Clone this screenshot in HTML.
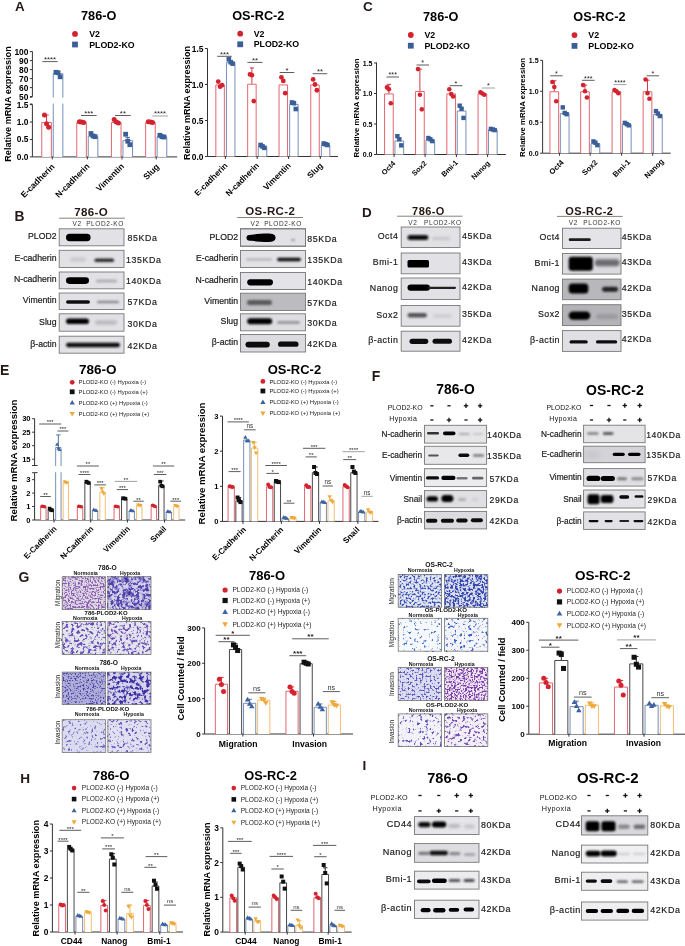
<!DOCTYPE html>
<html><head><meta charset="utf-8"><title>PLOD2 figure</title>
<style>html,body{margin:0;padding:0;background:#fff;overflow:hidden}svg{display:block;will-change:transform}text{font-family:"Liberation Sans",sans-serif}</style>
</head><body>
<svg width="685" height="946" viewBox="0 0 685 946" font-family='"Liberation Sans", sans-serif'>
<defs><filter id="b0_60" filterUnits="userSpaceOnUse" x="0" y="0" width="685" height="946"><feGaussianBlur stdDeviation="0.6"/></filter><filter id="b1_50" filterUnits="userSpaceOnUse" x="0" y="0" width="685" height="946"><feGaussianBlur stdDeviation="1.5"/></filter><filter id="b1_10" filterUnits="userSpaceOnUse" x="0" y="0" width="685" height="946"><feGaussianBlur stdDeviation="1.1"/></filter><filter id="b1_20" filterUnits="userSpaceOnUse" x="0" y="0" width="685" height="946"><feGaussianBlur stdDeviation="1.2"/></filter><filter id="b0_80" filterUnits="userSpaceOnUse" x="0" y="0" width="685" height="946"><feGaussianBlur stdDeviation="0.8"/></filter><filter id="b0_90" filterUnits="userSpaceOnUse" x="0" y="0" width="685" height="946"><feGaussianBlur stdDeviation="0.9"/></filter><filter id="b1_40" filterUnits="userSpaceOnUse" x="0" y="0" width="685" height="946"><feGaussianBlur stdDeviation="1.4"/></filter><filter id="b1_00" filterUnits="userSpaceOnUse" x="0" y="0" width="685" height="946"><feGaussianBlur stdDeviation="1"/></filter><filter id="b0_70" filterUnits="userSpaceOnUse" x="0" y="0" width="685" height="946"><feGaussianBlur stdDeviation="0.7"/></filter><filter id="b0_50" filterUnits="userSpaceOnUse" x="0" y="0" width="685" height="946"><feGaussianBlur stdDeviation="0.5"/></filter><filter id="b1_60" filterUnits="userSpaceOnUse" x="0" y="0" width="685" height="946"><feGaussianBlur stdDeviation="1.6"/></filter><filter id="b1_80" filterUnits="userSpaceOnUse" x="0" y="0" width="685" height="946"><feGaussianBlur stdDeviation="1.8"/></filter><filter id="b2_50" filterUnits="userSpaceOnUse" x="0" y="0" width="685" height="946"><feGaussianBlur stdDeviation="2.5"/></filter><filter id="m1" x="0" y="0" width="1" height="1" color-interpolation-filters="sRGB"><feTurbulence type="fractalNoise" baseFrequency="0.6" numOctaves="3" seed="3"/><feColorMatrix type="matrix" values="0 0 0 0 0.549 0 0 0 0 0.345 0 0 0 0 0.690 6 0 0 0 -2.76"/><feGaussianBlur stdDeviation="0.5"/></filter><filter id="m2" x="0" y="0" width="1" height="1" color-interpolation-filters="sRGB"><feTurbulence type="fractalNoise" baseFrequency="0.35" numOctaves="3" seed="4"/><feColorMatrix type="matrix" values="0 0 0 0 0.329 0 0 0 0 0.267 0 0 0 0 0.690 6 0 0 0 -2.7"/><feGaussianBlur stdDeviation="0.5"/></filter><filter id="m3" x="0" y="0" width="1" height="1" color-interpolation-filters="sRGB"><feTurbulence type="fractalNoise" baseFrequency="0.12" numOctaves="2" seed="54"/><feColorMatrix type="matrix" values="0 0 0 0 0.251 0 0 0 0 0.188 0 0 0 0 0.620 3 0 0 0 -1.56"/></filter><filter id="m4" x="0" y="0" width="1" height="1" color-interpolation-filters="sRGB"><feTurbulence type="fractalNoise" baseFrequency="0.35" numOctaves="3" seed="5"/><feColorMatrix type="matrix" values="0 0 0 0 0.416 0 0 0 0 0.298 0 0 0 0 0.722 6 0 0 0 -3"/><feGaussianBlur stdDeviation="0.35"/></filter><filter id="m5" x="0" y="0" width="1" height="1" color-interpolation-filters="sRGB"><feTurbulence type="fractalNoise" baseFrequency="0.35" numOctaves="3" seed="6"/><feColorMatrix type="matrix" values="0 0 0 0 0.424 0 0 0 0 0.298 0 0 0 0 0.714 6 0 0 0 -3"/><feGaussianBlur stdDeviation="0.35"/></filter><filter id="m6" x="0" y="0" width="1" height="1" color-interpolation-filters="sRGB"><feTurbulence type="fractalNoise" baseFrequency="0.6" numOctaves="3" seed="7"/><feColorMatrix type="matrix" values="0 0 0 0 0.290 0 0 0 0 0.251 0 0 0 0 0.659 6 0 0 0 -3.12"/><feGaussianBlur stdDeviation="0.35"/></filter><filter id="m7" x="0" y="0" width="1" height="1" color-interpolation-filters="sRGB"><feTurbulence type="fractalNoise" baseFrequency="0.3" numOctaves="3" seed="8"/><feColorMatrix type="matrix" values="0 0 0 0 0.243 0 0 0 0 0.188 0 0 0 0 0.643 6 0 0 0 -2.76"/><feGaussianBlur stdDeviation="0.35"/></filter><filter id="m8" x="0" y="0" width="1" height="1" color-interpolation-filters="sRGB"><feTurbulence type="fractalNoise" baseFrequency="0.35" numOctaves="3" seed="9"/><feColorMatrix type="matrix" values="0 0 0 0 0.416 0 0 0 0 0.361 0 0 0 0 0.753 6 0 0 0 -3.42"/><feGaussianBlur stdDeviation="0.35"/></filter><filter id="m9" x="0" y="0" width="1" height="1" color-interpolation-filters="sRGB"><feTurbulence type="fractalNoise" baseFrequency="0.35" numOctaves="3" seed="10"/><feColorMatrix type="matrix" values="0 0 0 0 0.353 0 0 0 0 0.298 0 0 0 0 0.722 6 0 0 0 -3.36"/><feGaussianBlur stdDeviation="0.35"/></filter><filter id="m10" x="0" y="0" width="1" height="1" color-interpolation-filters="sRGB"><feTurbulence type="fractalNoise" baseFrequency="0.5" numOctaves="3" seed="11"/><feColorMatrix type="matrix" values="0 0 0 0 0.227 0 0 0 0 0.322 0 0 0 0 0.722 6 0 0 0 -2.82"/><feGaussianBlur stdDeviation="0.35"/></filter><filter id="m11" x="0" y="0" width="1" height="1" color-interpolation-filters="sRGB"><feTurbulence type="fractalNoise" baseFrequency="0.45" numOctaves="3" seed="12"/><feColorMatrix type="matrix" values="0 0 0 0 0.196 0 0 0 0 0.282 0 0 0 0 0.690 6 0 0 0 -2.64"/><feGaussianBlur stdDeviation="0.35"/></filter><filter id="m12" x="0" y="0" width="1" height="1" color-interpolation-filters="sRGB"><feTurbulence type="fractalNoise" baseFrequency="0.35" numOctaves="3" seed="13"/><feColorMatrix type="matrix" values="0 0 0 0 0.227 0 0 0 0 0.455 0 0 0 0 0.816 6 0 0 0 -3.6"/><feGaussianBlur stdDeviation="0.35"/></filter><filter id="m13" x="0" y="0" width="1" height="1" color-interpolation-filters="sRGB"><feTurbulence type="fractalNoise" baseFrequency="0.35" numOctaves="3" seed="14"/><feColorMatrix type="matrix" values="0 0 0 0 0.227 0 0 0 0 0.376 0 0 0 0 0.769 6 0 0 0 -3.42"/><feGaussianBlur stdDeviation="0.35"/></filter><filter id="m14" x="0" y="0" width="1" height="1" color-interpolation-filters="sRGB"><feTurbulence type="fractalNoise" baseFrequency="0.5" numOctaves="3" seed="15"/><feColorMatrix type="matrix" values="0 0 0 0 0.345 0 0 0 0 0.329 0 0 0 0 0.753 6 0 0 0 -3"/><feGaussianBlur stdDeviation="0.35"/></filter><filter id="m15" x="0" y="0" width="1" height="1" color-interpolation-filters="sRGB"><feTurbulence type="fractalNoise" baseFrequency="0.55" numOctaves="3" seed="16"/><feColorMatrix type="matrix" values="0 0 0 0 0.478 0 0 0 0 0.227 0 0 0 0 0.659 6 0 0 0 -2.76"/><feGaussianBlur stdDeviation="0.35"/></filter><filter id="m16" x="0" y="0" width="1" height="1" color-interpolation-filters="sRGB"><feTurbulence type="fractalNoise" baseFrequency="0.35" numOctaves="3" seed="17"/><feColorMatrix type="matrix" values="0 0 0 0 0.353 0 0 0 0 0.306 0 0 0 0 0.753 6 0 0 0 -3.42"/><feGaussianBlur stdDeviation="0.35"/></filter><filter id="m17" x="0" y="0" width="1" height="1" color-interpolation-filters="sRGB"><feTurbulence type="fractalNoise" baseFrequency="0.35" numOctaves="3" seed="18"/><feColorMatrix type="matrix" values="0 0 0 0 0.439 0 0 0 0 0.275 0 0 0 0 0.690 6 0 0 0 -3.24"/><feGaussianBlur stdDeviation="0.35"/></filter><filter id="b1_30" filterUnits="userSpaceOnUse" x="0" y="0" width="685" height="946"><feGaussianBlur stdDeviation="1.3"/></filter></defs>
<rect width="685" height="946" fill="#fff"/>
<text x="15" y="10.7" font-size="13.4" font-weight="bold" fill="#231815">A</text>
<text x="98.7" y="20.4" font-size="12.7" font-weight="bold" text-anchor="middle">786-O</text>
<circle cx="75" cy="33.9" r="2.9" fill="#d2232f"/>
<rect x="72.1" y="41.6" width="5.8" height="5.8" fill="#3a5e98"/>
<text x="89.2" y="37.07" font-size="8.8" font-weight="bold">V2</text>
<text x="89.2" y="47.67" font-size="8.8" font-weight="bold">PLOD2-KO</text>
<line x1="32.4" y1="104.6" x2="32.4" y2="156.9" stroke="#333" stroke-width="1"/>
<line x1="29.9" y1="156.9" x2="32.4" y2="156.9" stroke="#333" stroke-width="1"/>
<text x="28.4" y="159.92" font-size="8.4" font-weight="bold" text-anchor="end">0.0</text>
<line x1="29.9" y1="139.47" x2="32.4" y2="139.47" stroke="#333" stroke-width="1"/>
<text x="28.4" y="142.49" font-size="8.4" font-weight="bold" text-anchor="end">0.5</text>
<line x1="29.9" y1="122.03" x2="32.4" y2="122.03" stroke="#333" stroke-width="1"/>
<text x="28.4" y="125.05" font-size="8.4" font-weight="bold" text-anchor="end">1.0</text>
<line x1="29.9" y1="104.6" x2="32.4" y2="104.6" stroke="#333" stroke-width="1"/>
<text x="28.4" y="107.62" font-size="8.4" font-weight="bold" text-anchor="end">1.5</text>
<line x1="32.4" y1="51.4" x2="32.4" y2="96.6" stroke="#333" stroke-width="1"/>
<line x1="29.9" y1="96.6" x2="32.4" y2="96.6" stroke="#333" stroke-width="1"/>
<text x="28.4" y="99.62" font-size="8.4" font-weight="bold" text-anchor="end">50</text>
<line x1="29.9" y1="87.6" x2="32.4" y2="87.6" stroke="#333" stroke-width="1"/>
<text x="28.4" y="90.62" font-size="8.4" font-weight="bold" text-anchor="end">60</text>
<line x1="29.9" y1="78.6" x2="32.4" y2="78.6" stroke="#333" stroke-width="1"/>
<text x="28.4" y="81.62" font-size="8.4" font-weight="bold" text-anchor="end">70</text>
<line x1="29.9" y1="69.6" x2="32.4" y2="69.6" stroke="#333" stroke-width="1"/>
<text x="28.4" y="72.62" font-size="8.4" font-weight="bold" text-anchor="end">80</text>
<line x1="29.9" y1="60.6" x2="32.4" y2="60.6" stroke="#333" stroke-width="1"/>
<text x="28.4" y="63.62" font-size="8.4" font-weight="bold" text-anchor="end">90</text>
<line x1="29.9" y1="51.6" x2="32.4" y2="51.6" stroke="#333" stroke-width="1"/>
<text x="28.4" y="54.62" font-size="8.4" font-weight="bold" text-anchor="end">100</text>
<text transform="translate(10.6 104) rotate(-90)" font-size="9.1" font-weight="bold" text-anchor="middle">Relative mRNA expression</text>
<line x1="32.4" y1="156.9" x2="177.1" y2="156.9" stroke="#333" stroke-width="1"/>
<line x1="52.3" y1="156.9" x2="52.3" y2="159.4" stroke="#333" stroke-width="1"/>
<line x1="87.3" y1="156.9" x2="87.3" y2="159.4" stroke="#333" stroke-width="1"/>
<line x1="122" y1="156.9" x2="122" y2="159.4" stroke="#333" stroke-width="1"/>
<line x1="156.2" y1="156.9" x2="156.2" y2="159.4" stroke="#333" stroke-width="1"/>
<path d="M41.75 156.9V122.48H51.35V156.9" fill="#fff" stroke="#e0555e" stroke-width="0.9"/>
<line x1="46.55" y1="122.03" x2="46.55" y2="115.06" stroke="#d2232f" stroke-width="0.9"/>
<line x1="44.35" y1="115.06" x2="48.75" y2="115.06" stroke="#d2232f" stroke-width="0.9"/>
<circle cx="44.45" cy="115.06" r="2.5" fill="#d2232f"/>
<circle cx="46.55" cy="123.77" r="2.5" fill="#d2232f"/>
<circle cx="48.65" cy="127.26" r="2.5" fill="#d2232f"/>
<path d="M53.25 156.9V73.65H62.85V156.9" fill="#fff" stroke="#6582b2" stroke-width="0.9"/>
<rect x="53.55" y="69.9" width="4.8" height="4.8" fill="#3a5e98"/>
<rect x="55.65" y="70.35" width="4.8" height="4.8" fill="#3a5e98"/>
<rect x="57.75" y="74.4" width="4.8" height="4.8" fill="#3a5e98"/>
<path d="M76.75 156.9V122.48H86.35V156.9" fill="#fff" stroke="#e0555e" stroke-width="0.9"/>
<circle cx="79.45" cy="121.68" r="2.5" fill="#d2232f"/>
<circle cx="81.55" cy="122.03" r="2.5" fill="#d2232f"/>
<circle cx="83.65" cy="122.38" r="2.5" fill="#d2232f"/>
<path d="M88.25 156.9V136.43H97.85V156.9" fill="#fff" stroke="#6582b2" stroke-width="0.9"/>
<rect x="88.55" y="131.14" width="4.8" height="4.8" fill="#3a5e98"/>
<rect x="90.65" y="133.58" width="4.8" height="4.8" fill="#3a5e98"/>
<rect x="92.75" y="134.28" width="4.8" height="4.8" fill="#3a5e98"/>
<path d="M111.45 156.9V122.48H121.05V156.9" fill="#fff" stroke="#e0555e" stroke-width="0.9"/>
<circle cx="114.15" cy="119.59" r="2.5" fill="#d2232f"/>
<circle cx="116.25" cy="122.03" r="2.5" fill="#d2232f"/>
<circle cx="118.35" cy="123.08" r="2.5" fill="#d2232f"/>
<path d="M122.95 156.9V140.61H132.55V156.9" fill="#fff" stroke="#6582b2" stroke-width="0.9"/>
<line x1="127.75" y1="140.16" x2="127.75" y2="137.37" stroke="#3a5e98" stroke-width="0.9"/>
<line x1="125.55" y1="137.37" x2="129.95" y2="137.37" stroke="#3a5e98" stroke-width="0.9"/>
<rect x="123.25" y="131.83" width="4.8" height="4.8" fill="#3a5e98"/>
<rect x="125.35" y="138.81" width="4.8" height="4.8" fill="#3a5e98"/>
<rect x="127.45" y="142.3" width="4.8" height="4.8" fill="#3a5e98"/>
<path d="M145.65 156.9V122.48H155.25V156.9" fill="#fff" stroke="#e0555e" stroke-width="0.9"/>
<circle cx="148.35" cy="121.68" r="2.5" fill="#d2232f"/>
<circle cx="150.45" cy="122.03" r="2.5" fill="#d2232f"/>
<circle cx="152.55" cy="122.38" r="2.5" fill="#d2232f"/>
<path d="M157.15 156.9V136.78H166.75V156.9" fill="#fff" stroke="#6582b2" stroke-width="0.9"/>
<rect x="157.45" y="132.88" width="4.8" height="4.8" fill="#3a5e98"/>
<rect x="159.55" y="134.28" width="4.8" height="4.8" fill="#3a5e98"/>
<rect x="161.65" y="134.62" width="4.8" height="4.8" fill="#3a5e98"/>
<rect x="28.4" y="97.6" width="140" height="6" fill="#fff"/>
<line x1="29.9" y1="97.2" x2="32.4" y2="97.2" stroke="#222" stroke-width="0.9"/>
<line x1="29.9" y1="104" x2="32.4" y2="104" stroke="#222" stroke-width="0.9"/>
<line x1="42.3" y1="61.6" x2="57.7" y2="61.6" stroke="#333" stroke-width="0.8"/>
<text x="50" y="62" font-size="7.8" text-anchor="middle" fill="#222">****</text>
<line x1="81" y1="115.5" x2="96.6" y2="115.5" stroke="#333" stroke-width="0.8"/>
<text x="88.8" y="115.9" font-size="7.8" text-anchor="middle" fill="#222">***</text>
<line x1="115" y1="115.5" x2="130.8" y2="115.5" stroke="#333" stroke-width="0.8"/>
<text x="122.9" y="115.9" font-size="7.8" text-anchor="middle" fill="#222">**</text>
<line x1="152.3" y1="116" x2="167.9" y2="116" stroke="#888" stroke-width="0.8"/>
<text x="160.1" y="116.4" font-size="7.8" text-anchor="middle" fill="#222">****</text>
<text transform="translate(55.2 167.3) rotate(-45)" font-size="8.5" font-weight="bold" text-anchor="end">E-cadherin</text>
<text transform="translate(90.2 166.8) rotate(-45)" font-size="8.5" font-weight="bold" text-anchor="end">N-cadherin</text>
<text transform="translate(124.8 166.8) rotate(-45)" font-size="8.5" font-weight="bold" text-anchor="end">Vimentin</text>
<text transform="translate(159.8 167.3) rotate(-45)" font-size="8.5" font-weight="bold" text-anchor="end">Slug</text>
<text x="258.3" y="20.4" font-size="12.7" font-weight="bold" text-anchor="middle">OS-RC-2</text>
<circle cx="240.2" cy="33.7" r="2.9" fill="#d2232f"/>
<rect x="237.3" y="41.4" width="5.8" height="5.8" fill="#3a5e98"/>
<text x="253.7" y="36.87" font-size="8.8" font-weight="bold">V2</text>
<text x="253.7" y="47.47" font-size="8.8" font-weight="bold">PLOD2-KO</text>
<line x1="207.5" y1="48.5" x2="207.5" y2="156.5" stroke="#333" stroke-width="1"/>
<line x1="205" y1="156.5" x2="207.5" y2="156.5" stroke="#333" stroke-width="1"/>
<text x="203.5" y="159.52" font-size="8.4" font-weight="bold" text-anchor="end">0.0</text>
<line x1="205" y1="120.5" x2="207.5" y2="120.5" stroke="#333" stroke-width="1"/>
<text x="203.5" y="123.52" font-size="8.4" font-weight="bold" text-anchor="end">0.5</text>
<line x1="205" y1="84.5" x2="207.5" y2="84.5" stroke="#333" stroke-width="1"/>
<text x="203.5" y="87.52" font-size="8.4" font-weight="bold" text-anchor="end">1.0</text>
<line x1="205" y1="48.5" x2="207.5" y2="48.5" stroke="#333" stroke-width="1"/>
<text x="203.5" y="51.52" font-size="8.4" font-weight="bold" text-anchor="end">1.5</text>
<text transform="translate(189.5 103) rotate(-90)" font-size="9" font-weight="bold" text-anchor="middle">Relative mRNA expression</text>
<line x1="207.5" y1="156.5" x2="338" y2="156.5" stroke="#333" stroke-width="1"/>
<line x1="225.4" y1="156.5" x2="225.4" y2="159" stroke="#333" stroke-width="1"/>
<line x1="257.2" y1="156.5" x2="257.2" y2="159" stroke="#333" stroke-width="1"/>
<line x1="288.6" y1="156.5" x2="288.6" y2="159" stroke="#333" stroke-width="1"/>
<line x1="320.3" y1="156.5" x2="320.3" y2="159" stroke="#333" stroke-width="1"/>
<path d="M215.85 156.5V84.95H224.35V156.5" fill="#fff" stroke="#e0555e" stroke-width="0.9"/>
<circle cx="218.22" cy="81.62" r="2.4" fill="#d2232f"/>
<circle cx="220.1" cy="86.66" r="2.4" fill="#d2232f"/>
<circle cx="221.98" cy="85.22" r="2.4" fill="#d2232f"/>
<path d="M226.45 156.5V62.63H234.95V156.5" fill="#fff" stroke="#6582b2" stroke-width="0.9"/>
<rect x="226.52" y="57" width="4.6" height="4.6" fill="#3a5e98"/>
<rect x="228.4" y="59.88" width="4.6" height="4.6" fill="#3a5e98"/>
<rect x="230.28" y="61.32" width="4.6" height="4.6" fill="#3a5e98"/>
<path d="M247.65 156.5V84.23H256.15V156.5" fill="#fff" stroke="#e0555e" stroke-width="0.9"/>
<line x1="251.9" y1="83.78" x2="251.9" y2="67.94" stroke="#d2232f" stroke-width="0.9"/>
<line x1="249.7" y1="67.94" x2="254.1" y2="67.94" stroke="#d2232f" stroke-width="0.9"/>
<circle cx="250.02" cy="74.42" r="2.4" fill="#d2232f"/>
<circle cx="251.9" cy="75.14" r="2.4" fill="#d2232f"/>
<circle cx="253.78" cy="101.06" r="2.4" fill="#d2232f"/>
<path d="M258.25 156.5V146.87H266.75V156.5" fill="#fff" stroke="#6582b2" stroke-width="0.9"/>
<rect x="258.32" y="142.68" width="4.6" height="4.6" fill="#3a5e98"/>
<rect x="260.2" y="144.12" width="4.6" height="4.6" fill="#3a5e98"/>
<rect x="262.08" y="145.56" width="4.6" height="4.6" fill="#3a5e98"/>
<path d="M279.05 156.5V84.95H287.55V156.5" fill="#fff" stroke="#e0555e" stroke-width="0.9"/>
<circle cx="281.42" cy="77.3" r="2.4" fill="#d2232f"/>
<circle cx="283.3" cy="80.9" r="2.4" fill="#d2232f"/>
<circle cx="285.18" cy="93.14" r="2.4" fill="#d2232f"/>
<path d="M289.65 156.5V104.39H298.15V156.5" fill="#fff" stroke="#6582b2" stroke-width="0.9"/>
<rect x="289.72" y="100.2" width="4.6" height="4.6" fill="#3a5e98"/>
<rect x="291.6" y="100.92" width="4.6" height="4.6" fill="#3a5e98"/>
<rect x="293.48" y="106.68" width="4.6" height="4.6" fill="#3a5e98"/>
<path d="M310.75 156.5V84.95H319.25V156.5" fill="#fff" stroke="#e0555e" stroke-width="0.9"/>
<circle cx="313.12" cy="79.46" r="2.4" fill="#d2232f"/>
<circle cx="315" cy="84.5" r="2.4" fill="#d2232f"/>
<circle cx="316.88" cy="90.26" r="2.4" fill="#d2232f"/>
<path d="M321.35 156.5V145.43H329.85V156.5" fill="#fff" stroke="#6582b2" stroke-width="0.9"/>
<rect x="321.42" y="141.24" width="4.6" height="4.6" fill="#3a5e98"/>
<rect x="323.3" y="141.96" width="4.6" height="4.6" fill="#3a5e98"/>
<rect x="325.18" y="142.68" width="4.6" height="4.6" fill="#3a5e98"/>
<line x1="217.2" y1="56.3" x2="231.8" y2="56.3" stroke="#333" stroke-width="0.8"/>
<text x="224.5" y="56.7" font-size="7.8" text-anchor="middle" fill="#222">***</text>
<line x1="247.4" y1="62.4" x2="262.5" y2="62.4" stroke="#333" stroke-width="0.8"/>
<text x="254.95" y="62.8" font-size="7.8" text-anchor="middle" fill="#222">**</text>
<line x1="279.7" y1="72.5" x2="294.3" y2="72.5" stroke="#333" stroke-width="0.8"/>
<text x="287" y="72.9" font-size="7.8" text-anchor="middle" fill="#222">*</text>
<line x1="312.7" y1="73.7" x2="327.3" y2="73.7" stroke="#333" stroke-width="0.8"/>
<text x="320" y="74.1" font-size="7.8" text-anchor="middle" fill="#222">**</text>
<text transform="translate(228.2 166.1) rotate(-45)" font-size="8.3" font-weight="bold" text-anchor="end">E-cadherin</text>
<text transform="translate(259.7 166.1) rotate(-45)" font-size="8.3" font-weight="bold" text-anchor="end">N-cadherin</text>
<text transform="translate(291.3 166.1) rotate(-45)" font-size="8.3" font-weight="bold" text-anchor="end">Vimentin</text>
<text transform="translate(323.3 166.1) rotate(-45)" font-size="8.3" font-weight="bold" text-anchor="end">Slug</text>
<text x="14.5" y="221.3" font-size="13.8" font-weight="bold" fill="#231815">B</text>
<text x="91.2" y="216.3" font-size="11.5" font-weight="bold" text-anchor="middle" fill="#231815" letter-spacing="0.4">786-O</text>
<line x1="59.2" y1="218.2" x2="124.8" y2="218.2" stroke="#8a817c" stroke-width="1"/>
<text x="72.5" y="226.4" font-size="6.5" fill="#333" letter-spacing="0.7">V2</text>
<text x="86.2" y="226.4" font-size="6.5" fill="#333" letter-spacing="0.6">PLOD2-KO</text>
<rect x="59.2" y="228.8" width="64.8" height="17" fill="#e2e2e6"/>
<rect x="66" y="233.8" width="24.6" height="7.4" rx="3.7" fill="#000" filter="url(#b0_60)"/>
<rect x="59.2" y="228.8" width="64.8" height="17" fill="none" stroke="#787878" stroke-width="0.9"/>
<text x="56.5" y="239.3" font-size="8.7" text-anchor="end" fill="#1a1a1a" stroke="#1a1a1a" stroke-width="0.2">PLOD2</text>
<text x="127.5" y="241.3" font-size="8.8" fill="#1a1a1a" letter-spacing="0.6" stroke="#1a1a1a" stroke-width="0.18">85KDa</text>
<rect x="59.2" y="250.3" width="64.8" height="17.2" fill="#e2e2e6"/>
<rect x="70" y="257.5" width="16" height="4" rx="2" fill="#c8c8cc" filter="url(#b1_50)"/>
<rect x="94.4" y="258.5" width="19.7" height="3.6" rx="1.8" fill="#2a2a2a" filter="url(#b1_10)"/>
<rect x="59.2" y="250.3" width="64.8" height="17.2" fill="none" stroke="#787878" stroke-width="0.9"/>
<text x="56.5" y="260.9" font-size="8.7" text-anchor="end" fill="#1a1a1a" stroke="#1a1a1a" stroke-width="0.2">E-cadherin</text>
<text x="126" y="262.9" font-size="8.8" fill="#1a1a1a" letter-spacing="0.6" stroke="#1a1a1a" stroke-width="0.18">135KDa</text>
<rect x="59.2" y="272" width="64.8" height="16.8" fill="#e2e2e6"/>
<rect x="66" y="277.3" width="23" height="6.6" rx="3.3" fill="#000" filter="url(#b0_60)"/>
<rect x="96" y="279.5" width="21" height="3" rx="1.5" fill="#b0b0b4" filter="url(#b1_20)"/>
<rect x="59.2" y="272" width="64.8" height="16.8" fill="none" stroke="#787878" stroke-width="0.9"/>
<text x="56.5" y="282.4" font-size="8.7" text-anchor="end" fill="#1a1a1a" stroke="#1a1a1a" stroke-width="0.2">N-cadherin</text>
<text x="126" y="284.4" font-size="8.8" fill="#1a1a1a" letter-spacing="0.6" stroke="#1a1a1a" stroke-width="0.18">140KDa</text>
<rect x="59.2" y="293" width="64.8" height="16.5" fill="#e2e2e6"/>
<rect x="66" y="300.2" width="24" height="3.6" rx="1.8" fill="#111" filter="url(#b0_60)"/>
<rect x="97" y="300.7" width="22" height="2.6" rx="1.3" fill="#8a8a8e" filter="url(#b0_80)"/>
<rect x="59.2" y="293" width="64.8" height="16.5" fill="none" stroke="#787878" stroke-width="0.9"/>
<text x="56.5" y="303.25" font-size="8.7" text-anchor="end" fill="#1a1a1a" stroke="#1a1a1a" stroke-width="0.2">Vimentin</text>
<text x="127.5" y="305.25" font-size="8.8" fill="#1a1a1a" letter-spacing="0.6" stroke="#1a1a1a" stroke-width="0.18">57KDa</text>
<rect x="59.2" y="313.8" width="64.8" height="17.4" fill="#e2e2e6"/>
<rect x="66" y="318.5" width="23" height="5.6" rx="2.8" fill="#000" filter="url(#b0_90)"/>
<rect x="95" y="320.5" width="22" height="4" rx="2" fill="#b5b5b9" filter="url(#b1_40)"/>
<rect x="59.2" y="313.8" width="64.8" height="17.4" fill="none" stroke="#787878" stroke-width="0.9"/>
<text x="56.5" y="324.5" font-size="8.7" text-anchor="end" fill="#1a1a1a" stroke="#1a1a1a" stroke-width="0.2">Slug</text>
<text x="127.5" y="326.5" font-size="8.8" fill="#1a1a1a" letter-spacing="0.6" stroke="#1a1a1a" stroke-width="0.18">30KDa</text>
<rect x="59.2" y="336.2" width="64.8" height="17" fill="#e2e2e6"/>
<rect x="66" y="342.7" width="54" height="4.6" rx="2.3" fill="#111" filter="url(#b0_80)"/>
<rect x="59.2" y="336.2" width="64.8" height="17" fill="none" stroke="#787878" stroke-width="0.9"/>
<text x="56.5" y="346.7" font-size="8.7" text-anchor="end" fill="#1a1a1a" stroke="#1a1a1a" stroke-width="0.2">β-actin</text>
<text x="127.5" y="348.7" font-size="8.8" fill="#1a1a1a" letter-spacing="0.6" stroke="#1a1a1a" stroke-width="0.18">42KDa</text>
<text x="270.3" y="215.2" font-size="11.5" font-weight="bold" text-anchor="middle" fill="#231815" letter-spacing="0.4">OS-RC-2</text>
<line x1="237.2" y1="217.5" x2="303" y2="217.5" stroke="#8a817c" stroke-width="1"/>
<text x="250.5" y="226" font-size="6.5" fill="#333" letter-spacing="0.7">V2</text>
<text x="264.2" y="226" font-size="6.5" fill="#333" letter-spacing="0.6">PLOD2-KO</text>
<rect x="240.5" y="228.8" width="65" height="17.4" fill="#e2e2e6"/>
<rect x="291" y="239" width="4" height="2" rx="1" fill="#999" filter="url(#b0_80)"/>
<rect x="240.5" y="228.8" width="65" height="17.4" fill="none" stroke="#787878" stroke-width="0.9"/>
<path d="M249.3 235 C269.86 232.63 275.5 233.1 275.5 237.8 L275.5 237.8 C275.5 242.5 269.86 242.97 249.3 240.6 Z" fill="#000" filter="url(#b0_60)"/>
<circle cx="249.3" cy="237.8" r="2.8" fill="#000" filter="url(#b0_60)"/>
<rect x="240.5" y="228.8" width="65" height="17.4" fill="none" stroke="#787878" stroke-width="0.9"/>
<text x="238" y="239.5" font-size="8.7" text-anchor="end" fill="#1a1a1a" stroke="#1a1a1a" stroke-width="0.2">PLOD2</text>
<text x="307.3" y="241.5" font-size="8.8" fill="#1a1a1a" letter-spacing="0.6" stroke="#1a1a1a" stroke-width="0.18">85KDa</text>
<rect x="240.5" y="250.5" width="65" height="17" fill="#e2e2e6"/>
<rect x="246" y="258.25" width="26" height="2.5" rx="1.25" fill="#b8b8bc" filter="url(#b1_00)"/>
<rect x="277" y="257.7" width="24" height="3.6" rx="1.8" fill="#111" filter="url(#b0_80)"/>
<rect x="240.5" y="250.5" width="65" height="17" fill="none" stroke="#787878" stroke-width="0.9"/>
<text x="238" y="261" font-size="8.7" text-anchor="end" fill="#1a1a1a" stroke="#1a1a1a" stroke-width="0.2">E-cadherin</text>
<text x="307.3" y="263" font-size="8.8" fill="#1a1a1a" letter-spacing="0.6" stroke="#1a1a1a" stroke-width="0.18">135KDa</text>
<rect x="240.5" y="272.5" width="65" height="17" fill="#e4e4e8"/>
<rect x="247.2" y="279.2" width="25.8" height="6.2" rx="3.1" fill="#000" filter="url(#b0_60)"/>
<rect x="240.5" y="272.5" width="65" height="17" fill="none" stroke="#787878" stroke-width="0.9"/>
<text x="238" y="283" font-size="8.7" text-anchor="end" fill="#1a1a1a" stroke="#1a1a1a" stroke-width="0.2">N-cadherin</text>
<text x="307.3" y="285" font-size="8.8" fill="#1a1a1a" letter-spacing="0.6" stroke="#1a1a1a" stroke-width="0.18">140KDa</text>
<rect x="240.5" y="293.2" width="65" height="17.3" fill="#bcbcc0"/>
<rect x="247" y="300" width="25" height="5" rx="2.5" fill="#5a5a5c" filter="url(#b1_20)"/>
<rect x="240.5" y="293.2" width="65" height="17.3" fill="none" stroke="#787878" stroke-width="0.9"/>
<text x="238" y="303.85" font-size="8.7" text-anchor="end" fill="#1a1a1a" stroke="#1a1a1a" stroke-width="0.2">Vimentin</text>
<text x="307.3" y="305.85" font-size="8.8" fill="#1a1a1a" letter-spacing="0.6" stroke="#1a1a1a" stroke-width="0.18">57KDa</text>
<rect x="240.5" y="313.8" width="65" height="17" fill="#dedee2"/>
<rect x="247.2" y="318.2" width="25" height="6" rx="3" fill="#000" filter="url(#b0_80)"/>
<rect x="277" y="320.9" width="23" height="3.2" rx="1.6" fill="#9a9a9e" filter="url(#b1_20)"/>
<rect x="240.5" y="313.8" width="65" height="17" fill="none" stroke="#787878" stroke-width="0.9"/>
<text x="238" y="324.3" font-size="8.7" text-anchor="end" fill="#1a1a1a" stroke="#1a1a1a" stroke-width="0.2">Slug</text>
<text x="307.3" y="326.3" font-size="8.8" fill="#1a1a1a" letter-spacing="0.6" stroke="#1a1a1a" stroke-width="0.18">30KDa</text>
<rect x="240.5" y="334.5" width="65" height="17.5" fill="#dcdce0"/>
<rect x="245.5" y="341.7" width="24.3" height="5.8" rx="2.9" fill="#0a0a0a" filter="url(#b0_70)"/>
<rect x="278" y="341.6" width="20.5" height="5.2" rx="2.6" fill="#0a0a0a" filter="url(#b0_70)"/>
<rect x="240.5" y="334.5" width="65" height="17.5" fill="none" stroke="#787878" stroke-width="0.9"/>
<text x="238" y="345.25" font-size="8.7" text-anchor="end" fill="#1a1a1a" stroke="#1a1a1a" stroke-width="0.2">β-actin</text>
<text x="307.3" y="347.25" font-size="8.8" fill="#1a1a1a" letter-spacing="0.6" stroke="#1a1a1a" stroke-width="0.18">42KDa</text>
<text x="363" y="11.3" font-size="13.6" font-weight="bold" fill="#231815">C</text>
<text x="440.7" y="20.5" font-size="12.7" font-weight="bold" text-anchor="middle">786-O</text>
<circle cx="410.8" cy="35" r="2.9" fill="#d2232f"/>
<rect x="407.9" y="42.8" width="5.8" height="5.8" fill="#3a5e98"/>
<text x="424.5" y="38.17" font-size="8.8" font-weight="bold">V2</text>
<text x="424.5" y="48.87" font-size="8.8" font-weight="bold">PLOD2-KO</text>
<line x1="376.5" y1="62.5" x2="376.5" y2="154.5" stroke="#333" stroke-width="1"/>
<line x1="374" y1="154.5" x2="376.5" y2="154.5" stroke="#333" stroke-width="1"/>
<text x="372.5" y="157.02" font-size="7" font-weight="bold" text-anchor="end">0.0</text>
<line x1="374" y1="124" x2="376.5" y2="124" stroke="#333" stroke-width="1"/>
<text x="372.5" y="126.52" font-size="7" font-weight="bold" text-anchor="end">0.5</text>
<line x1="374" y1="93.5" x2="376.5" y2="93.5" stroke="#333" stroke-width="1"/>
<text x="372.5" y="96.02" font-size="7" font-weight="bold" text-anchor="end">1.0</text>
<line x1="374" y1="63" x2="376.5" y2="63" stroke="#333" stroke-width="1"/>
<text x="372.5" y="65.52" font-size="7" font-weight="bold" text-anchor="end">1.5</text>
<text transform="translate(359 108) rotate(-90)" font-size="7.8" font-weight="bold" text-anchor="middle">Relative mRNA expression</text>
<line x1="376.5" y1="154.5" x2="505.8" y2="154.5" stroke="#333" stroke-width="1"/>
<line x1="394.1" y1="154.5" x2="394.1" y2="157" stroke="#333" stroke-width="1"/>
<line x1="425.1" y1="154.5" x2="425.1" y2="157" stroke="#333" stroke-width="1"/>
<line x1="456.4" y1="154.5" x2="456.4" y2="157" stroke="#333" stroke-width="1"/>
<line x1="487.6" y1="154.5" x2="487.6" y2="157" stroke="#333" stroke-width="1"/>
<path d="M384.55 154.5V93.95H393.25V154.5" fill="#fff" stroke="#e0555e" stroke-width="0.9"/>
<line x1="388.9" y1="93.5" x2="388.9" y2="84.35" stroke="#d2232f" stroke-width="0.9"/>
<line x1="386.7" y1="84.35" x2="391.1" y2="84.35" stroke="#d2232f" stroke-width="0.9"/>
<circle cx="386.98" cy="87.4" r="2.3" fill="#d2232f"/>
<circle cx="388.9" cy="89.23" r="2.3" fill="#d2232f"/>
<circle cx="390.82" cy="103.26" r="2.3" fill="#d2232f"/>
<path d="M394.95 154.5V140.92H403.65V154.5" fill="#fff" stroke="#6582b2" stroke-width="0.9"/>
<rect x="395.18" y="134" width="4.4" height="4.4" fill="#3a5e98"/>
<rect x="397.1" y="137.05" width="4.4" height="4.4" fill="#3a5e98"/>
<rect x="399.02" y="143.15" width="4.4" height="4.4" fill="#3a5e98"/>
<path d="M415.55 154.5V91.51H424.25V154.5" fill="#fff" stroke="#e0555e" stroke-width="0.9"/>
<line x1="419.9" y1="91.06" x2="419.9" y2="69.1" stroke="#d2232f" stroke-width="0.9"/>
<line x1="417.7" y1="69.1" x2="422.1" y2="69.1" stroke="#d2232f" stroke-width="0.9"/>
<circle cx="417.98" cy="69.1" r="2.3" fill="#d2232f"/>
<circle cx="419.9" cy="94.72" r="2.3" fill="#d2232f"/>
<circle cx="421.82" cy="109.36" r="2.3" fill="#d2232f"/>
<path d="M425.95 154.5V140.31H434.65V154.5" fill="#fff" stroke="#6582b2" stroke-width="0.9"/>
<rect x="426.18" y="135.83" width="4.4" height="4.4" fill="#3a5e98"/>
<rect x="428.1" y="137.05" width="4.4" height="4.4" fill="#3a5e98"/>
<rect x="430.02" y="138.88" width="4.4" height="4.4" fill="#3a5e98"/>
<path d="M446.85 154.5V93.95H455.55V154.5" fill="#fff" stroke="#e0555e" stroke-width="0.9"/>
<circle cx="449.28" cy="89.23" r="2.3" fill="#d2232f"/>
<circle cx="451.2" cy="94.11" r="2.3" fill="#d2232f"/>
<circle cx="453.12" cy="96.55" r="2.3" fill="#d2232f"/>
<path d="M457.25 154.5V111.03H465.95V154.5" fill="#fff" stroke="#6582b2" stroke-width="0.9"/>
<rect x="457.48" y="103.5" width="4.4" height="4.4" fill="#3a5e98"/>
<rect x="459.4" y="106.55" width="4.4" height="4.4" fill="#3a5e98"/>
<rect x="461.32" y="115.7" width="4.4" height="4.4" fill="#3a5e98"/>
<path d="M478.05 154.5V93.95H486.75V154.5" fill="#fff" stroke="#e0555e" stroke-width="0.9"/>
<circle cx="480.48" cy="92.28" r="2.3" fill="#d2232f"/>
<circle cx="482.4" cy="93.5" r="2.3" fill="#d2232f"/>
<circle cx="484.32" cy="94.72" r="2.3" fill="#d2232f"/>
<path d="M488.45 154.5V129.94H497.15V154.5" fill="#fff" stroke="#6582b2" stroke-width="0.9"/>
<rect x="488.68" y="126.68" width="4.4" height="4.4" fill="#3a5e98"/>
<rect x="490.6" y="127.29" width="4.4" height="4.4" fill="#3a5e98"/>
<rect x="492.52" y="127.9" width="4.4" height="4.4" fill="#3a5e98"/>
<line x1="386.5" y1="77" x2="399" y2="77" stroke="#333" stroke-width="0.8"/>
<text x="392.75" y="77.4" font-size="7.2" text-anchor="middle" fill="#222">***</text>
<line x1="416.5" y1="65" x2="429" y2="65" stroke="#333" stroke-width="0.8"/>
<text x="422.75" y="65.4" font-size="7.2" text-anchor="middle" fill="#222">*</text>
<line x1="449.5" y1="85.7" x2="462.5" y2="85.7" stroke="#333" stroke-width="0.8"/>
<text x="456" y="86.1" font-size="7.2" text-anchor="middle" fill="#222">*</text>
<line x1="482" y1="88" x2="495" y2="88" stroke="#888" stroke-width="0.8"/>
<text x="488.5" y="88.4" font-size="7.2" text-anchor="middle" fill="#222">*</text>
<text transform="translate(395.9 163.9) rotate(-45)" font-size="7.3" font-weight="bold" text-anchor="end">Oct4</text>
<text transform="translate(427.2 163.9) rotate(-45)" font-size="7.3" font-weight="bold" text-anchor="end">Sox2</text>
<text transform="translate(458.5 163) rotate(-45)" font-size="7.3" font-weight="bold" text-anchor="end">Bmi-1</text>
<text transform="translate(490.4 163.9) rotate(-45)" font-size="7.3" font-weight="bold" text-anchor="end">Nanog</text>
<text x="599.4" y="20.6" font-size="12.7" font-weight="bold" text-anchor="middle">OS-RC-2</text>
<circle cx="574.5" cy="35.1" r="2.9" fill="#d2232f"/>
<rect x="571.6" y="43" width="5.8" height="5.8" fill="#3a5e98"/>
<text x="588.3" y="38.27" font-size="8.8" font-weight="bold">V2</text>
<text x="588.3" y="49.07" font-size="8.8" font-weight="bold">PLOD2-KO</text>
<line x1="542.6" y1="60.3" x2="542.6" y2="153.2" stroke="#333" stroke-width="1"/>
<line x1="540.1" y1="153.2" x2="542.6" y2="153.2" stroke="#333" stroke-width="1"/>
<text x="538.6" y="155.72" font-size="7" font-weight="bold" text-anchor="end">0.0</text>
<line x1="540.1" y1="122.25" x2="542.6" y2="122.25" stroke="#333" stroke-width="1"/>
<text x="538.6" y="124.77" font-size="7" font-weight="bold" text-anchor="end">0.5</text>
<line x1="540.1" y1="91.3" x2="542.6" y2="91.3" stroke="#333" stroke-width="1"/>
<text x="538.6" y="93.82" font-size="7" font-weight="bold" text-anchor="end">1.0</text>
<line x1="540.1" y1="60.35" x2="542.6" y2="60.35" stroke="#333" stroke-width="1"/>
<text x="538.6" y="62.87" font-size="7" font-weight="bold" text-anchor="end">1.5</text>
<text transform="translate(524.6 107.5) rotate(-90)" font-size="7.8" font-weight="bold" text-anchor="middle">Relative mRNA expression</text>
<line x1="542.6" y1="153.2" x2="670.7" y2="153.2" stroke="#333" stroke-width="1"/>
<line x1="559.5" y1="153.2" x2="559.5" y2="155.7" stroke="#333" stroke-width="1"/>
<line x1="590.2" y1="153.2" x2="590.2" y2="155.7" stroke="#333" stroke-width="1"/>
<line x1="621.6" y1="153.2" x2="621.6" y2="155.7" stroke="#333" stroke-width="1"/>
<line x1="652.7" y1="153.2" x2="652.7" y2="155.7" stroke="#333" stroke-width="1"/>
<path d="M549.95 153.2V91.75H558.65V153.2" fill="#fff" stroke="#e0555e" stroke-width="0.9"/>
<line x1="554.3" y1="91.3" x2="554.3" y2="80.78" stroke="#d2232f" stroke-width="0.9"/>
<line x1="552.1" y1="80.78" x2="556.5" y2="80.78" stroke="#d2232f" stroke-width="0.9"/>
<circle cx="552.38" cy="82.02" r="2.3" fill="#d2232f"/>
<circle cx="554.3" cy="86.97" r="2.3" fill="#d2232f"/>
<circle cx="556.22" cy="101.2" r="2.3" fill="#d2232f"/>
<path d="M560.35 153.2V113.41H569.05V153.2" fill="#fff" stroke="#6582b2" stroke-width="0.9"/>
<rect x="560.58" y="105.19" width="4.4" height="4.4" fill="#3a5e98"/>
<rect x="562.5" y="110.76" width="4.4" height="4.4" fill="#3a5e98"/>
<rect x="564.42" y="112" width="4.4" height="4.4" fill="#3a5e98"/>
<path d="M580.65 153.2V91.75H589.35V153.2" fill="#fff" stroke="#e0555e" stroke-width="0.9"/>
<line x1="585" y1="91.3" x2="585" y2="85.11" stroke="#d2232f" stroke-width="0.9"/>
<line x1="582.8" y1="85.11" x2="587.2" y2="85.11" stroke="#d2232f" stroke-width="0.9"/>
<circle cx="583.08" cy="85.11" r="2.3" fill="#d2232f"/>
<circle cx="585" cy="91.3" r="2.3" fill="#d2232f"/>
<circle cx="586.92" cy="97.49" r="2.3" fill="#d2232f"/>
<path d="M591.05 153.2V143.75H599.75V153.2" fill="#fff" stroke="#6582b2" stroke-width="0.9"/>
<rect x="591.28" y="139.24" width="4.4" height="4.4" fill="#3a5e98"/>
<rect x="593.2" y="140.48" width="4.4" height="4.4" fill="#3a5e98"/>
<rect x="595.12" y="142.95" width="4.4" height="4.4" fill="#3a5e98"/>
<path d="M612.05 153.2V91.75H620.75V153.2" fill="#fff" stroke="#e0555e" stroke-width="0.9"/>
<circle cx="614.48" cy="90.06" r="2.3" fill="#d2232f"/>
<circle cx="616.4" cy="91.3" r="2.3" fill="#d2232f"/>
<circle cx="618.32" cy="93.16" r="2.3" fill="#d2232f"/>
<path d="M622.45 153.2V124.56H631.15V153.2" fill="#fff" stroke="#6582b2" stroke-width="0.9"/>
<rect x="622.68" y="120.67" width="4.4" height="4.4" fill="#3a5e98"/>
<rect x="624.6" y="121.91" width="4.4" height="4.4" fill="#3a5e98"/>
<rect x="626.52" y="123.14" width="4.4" height="4.4" fill="#3a5e98"/>
<path d="M643.15 153.2V91.75H651.85V153.2" fill="#fff" stroke="#e0555e" stroke-width="0.9"/>
<line x1="647.5" y1="91.3" x2="647.5" y2="80.16" stroke="#d2232f" stroke-width="0.9"/>
<line x1="645.3" y1="80.16" x2="649.7" y2="80.16" stroke="#d2232f" stroke-width="0.9"/>
<circle cx="645.58" cy="79.54" r="2.3" fill="#d2232f"/>
<circle cx="647.5" cy="93.16" r="2.3" fill="#d2232f"/>
<circle cx="649.42" cy="98.73" r="2.3" fill="#d2232f"/>
<path d="M653.55 153.2V114.65H662.25V153.2" fill="#fff" stroke="#6582b2" stroke-width="0.9"/>
<rect x="653.78" y="108.91" width="4.4" height="4.4" fill="#3a5e98"/>
<rect x="655.7" y="111.38" width="4.4" height="4.4" fill="#3a5e98"/>
<rect x="657.62" y="113.86" width="4.4" height="4.4" fill="#3a5e98"/>
<line x1="550.2" y1="75.8" x2="562.7" y2="75.8" stroke="#333" stroke-width="0.8"/>
<text x="556.45" y="76.2" font-size="7.2" text-anchor="middle" fill="#222">*</text>
<line x1="582" y1="80.3" x2="594.6" y2="80.3" stroke="#333" stroke-width="0.8"/>
<text x="588.3" y="80.7" font-size="7.2" text-anchor="middle" fill="#222">***</text>
<line x1="613.4" y1="84.6" x2="626.5" y2="84.6" stroke="#888" stroke-width="0.8"/>
<text x="619.95" y="85" font-size="7.2" text-anchor="middle" fill="#222">****</text>
<line x1="646.6" y1="75.8" x2="659.1" y2="75.8" stroke="#333" stroke-width="0.8"/>
<text x="652.85" y="76.2" font-size="7.2" text-anchor="middle" fill="#222">*</text>
<text transform="translate(564.3 163) rotate(-45)" font-size="7.6" font-weight="bold" text-anchor="end">Oct4</text>
<text transform="translate(597.9 163) rotate(-45)" font-size="7.6" font-weight="bold" text-anchor="end">Sox2</text>
<text transform="translate(630.7 162.6) rotate(-45)" font-size="7.6" font-weight="bold" text-anchor="end">Bmi-1</text>
<text transform="translate(664.3 162) rotate(-45)" font-size="7.6" font-weight="bold" text-anchor="end">Nanog</text>
<text x="362" y="217" font-size="13.5" font-weight="bold" fill="#231815">D</text>
<text x="428.4" y="214.6" font-size="11" font-weight="bold" text-anchor="middle" fill="#231815" letter-spacing="0.4">786-O</text>
<line x1="397" y1="216.2" x2="462.5" y2="216.2" stroke="#8a817c" stroke-width="1"/>
<text x="408.2" y="224.6" font-size="6.5" fill="#333" letter-spacing="0.7">V2</text>
<text x="424" y="224.6" font-size="6.5" fill="#333" letter-spacing="0.6">PLOD2-KO</text>
<rect x="401.2" y="227" width="58.8" height="20.5" fill="#e2e2e6"/>
<rect x="407.5" y="235" width="20.8" height="5" rx="2.5" fill="#111" filter="url(#b1_00)"/>
<rect x="432" y="237" width="18" height="3" rx="1.5" fill="#c4c4c8" filter="url(#b1_50)"/>
<rect x="401.2" y="227" width="58.8" height="20.5" fill="none" stroke="#787878" stroke-width="0.9"/>
<text x="398.3" y="239.25" font-size="8.8" text-anchor="end" fill="#1a1a1a" letter-spacing="0.5" stroke="#1a1a1a" stroke-width="0.18">Oct4</text>
<text x="462" y="238.65" font-size="8.8" fill="#1a1a1a" letter-spacing="0.6" stroke="#1a1a1a" stroke-width="0.18">45KDa</text>
<rect x="401.2" y="253" width="58.8" height="20.8" fill="#e2e2e6"/>
<rect x="407.5" y="260.1" width="21.5" height="7.4" rx="1.5" fill="#000" filter="url(#b0_50)"/>
<rect x="401.2" y="253" width="58.8" height="20.8" fill="none" stroke="#787878" stroke-width="0.9"/>
<text x="398.3" y="265.4" font-size="8.8" text-anchor="end" fill="#1a1a1a" letter-spacing="0.5" stroke="#1a1a1a" stroke-width="0.18">Bmi-1</text>
<text x="462" y="264.8" font-size="8.8" fill="#1a1a1a" letter-spacing="0.6" stroke="#1a1a1a" stroke-width="0.18">43KDa</text>
<rect x="401.2" y="278" width="58.8" height="21.5" fill="#e2e2e6"/>
<rect x="407.5" y="284.4" width="22.5" height="6.4" rx="3.2" fill="#000" filter="url(#b0_60)"/>
<rect x="428" y="286.7" width="28" height="2.2" rx="1.1" fill="#222" filter="url(#b0_60)"/>
<rect x="401.2" y="278" width="58.8" height="21.5" fill="none" stroke="#787878" stroke-width="0.9"/>
<text x="398.3" y="290.75" font-size="8.8" text-anchor="end" fill="#1a1a1a" letter-spacing="0.5" stroke="#1a1a1a" stroke-width="0.18">Nanog</text>
<text x="462" y="290.15" font-size="8.8" fill="#1a1a1a" letter-spacing="0.6" stroke="#1a1a1a" stroke-width="0.18">42KDa</text>
<rect x="401.2" y="305.5" width="58.8" height="20.7" fill="#e2e2e6"/>
<rect x="407.5" y="312.9" width="19.5" height="4.6" rx="2.3" fill="#555" filter="url(#b1_20)"/>
<rect x="433" y="314.5" width="19" height="3" rx="1.5" fill="#c8c8cc" filter="url(#b1_50)"/>
<rect x="401.2" y="305.5" width="58.8" height="20.7" fill="none" stroke="#787878" stroke-width="0.9"/>
<text x="398.3" y="317.85" font-size="8.8" text-anchor="end" fill="#1a1a1a" letter-spacing="0.5" stroke="#1a1a1a" stroke-width="0.18">Sox2</text>
<text x="462" y="317.25" font-size="8.8" fill="#1a1a1a" letter-spacing="0.6" stroke="#1a1a1a" stroke-width="0.18">35KDa</text>
<rect x="401.2" y="331.2" width="58.8" height="20" fill="#e2e2e6"/>
<rect x="409.5" y="338.7" width="18.8" height="5.2" rx="2.6" fill="#0a0a0a" filter="url(#b0_60)"/>
<rect x="432.5" y="338.8" width="19.5" height="5" rx="2.5" fill="#0a0a0a" filter="url(#b0_60)"/>
<rect x="401.2" y="331.2" width="58.8" height="20" fill="none" stroke="#787878" stroke-width="0.9"/>
<text x="398.3" y="343.2" font-size="8.8" text-anchor="end" fill="#1a1a1a" letter-spacing="0.5" stroke="#1a1a1a" stroke-width="0.18">β-actin</text>
<text x="462" y="342.6" font-size="8.8" fill="#1a1a1a" letter-spacing="0.6" stroke="#1a1a1a" stroke-width="0.18">42KDa</text>
<text x="589.3" y="214.6" font-size="11" font-weight="bold" text-anchor="middle" fill="#231815" letter-spacing="0.4">OS-RC-2</text>
<line x1="557" y1="216.4" x2="622.7" y2="216.4" stroke="#8a817c" stroke-width="1"/>
<text x="568.7" y="225.2" font-size="6.5" fill="#333" letter-spacing="0.7">V2</text>
<text x="583.3" y="225.2" font-size="6.5" fill="#333" letter-spacing="0.6">PLOD2-KO</text>
<rect x="562.5" y="228.2" width="58.5" height="20.3" fill="#e4e4e8"/>
<rect x="568.7" y="238.3" width="22.1" height="2.8" rx="1.4" fill="#1a1a1a" filter="url(#b0_60)"/>
<rect x="562.5" y="228.2" width="58.5" height="20.3" fill="none" stroke="#787878" stroke-width="0.9"/>
<text x="560" y="240.35" font-size="8.8" text-anchor="end" fill="#1a1a1a" letter-spacing="0.5" stroke="#1a1a1a" stroke-width="0.18">Oct4</text>
<text x="621.8" y="239.75" font-size="8.8" fill="#1a1a1a" letter-spacing="0.6" stroke="#1a1a1a" stroke-width="0.18">45KDa</text>
<rect x="562.5" y="253.5" width="58.5" height="20.6" fill="#dcdce0"/>
<rect x="568.7" y="256.8" width="24.1" height="14" rx="3" fill="#000" filter="url(#b1_00)"/>
<rect x="594.6" y="259.3" width="25.1" height="7" rx="3.5" fill="#6a6a6e" filter="url(#b1_60)"/>
<rect x="562.5" y="253.5" width="58.5" height="20.6" fill="none" stroke="#787878" stroke-width="0.9"/>
<text x="560" y="265.8" font-size="8.8" text-anchor="end" fill="#1a1a1a" letter-spacing="0.5" stroke="#1a1a1a" stroke-width="0.18">Bmi-1</text>
<text x="621.8" y="265.2" font-size="8.8" fill="#1a1a1a" letter-spacing="0.6" stroke="#1a1a1a" stroke-width="0.18">43KDa</text>
<rect x="562.5" y="279.1" width="58.5" height="20.6" fill="#b8b8bc"/>
<rect x="568.7" y="283.5" width="19.6" height="10" rx="3.5" fill="#000" filter="url(#b1_00)"/>
<rect x="602.1" y="286.7" width="15.9" height="5" rx="2.5" fill="#222" filter="url(#b1_20)"/>
<rect x="562.5" y="279.1" width="58.5" height="20.6" fill="none" stroke="#787878" stroke-width="0.9"/>
<text x="560" y="291.4" font-size="8.8" text-anchor="end" fill="#1a1a1a" letter-spacing="0.5" stroke="#1a1a1a" stroke-width="0.18">Nanog</text>
<text x="621.8" y="290.8" font-size="8.8" fill="#1a1a1a" letter-spacing="0.6" stroke="#1a1a1a" stroke-width="0.18">42KDa</text>
<rect x="562.5" y="304.7" width="58.5" height="20.9" fill="#b4b4b8"/>
<rect x="568.7" y="311.4" width="21.6" height="8.4" rx="4.2" fill="#000" filter="url(#b1_20)"/>
<rect x="596" y="314" width="22" height="5" rx="2.5" fill="#9a9a9e" filter="url(#b1_80)"/>
<rect x="562.5" y="304.7" width="58.5" height="20.9" fill="none" stroke="#787878" stroke-width="0.9"/>
<text x="560" y="317.15" font-size="8.8" text-anchor="end" fill="#1a1a1a" letter-spacing="0.5" stroke="#1a1a1a" stroke-width="0.18">Sox2</text>
<text x="621.8" y="316.55" font-size="8.8" fill="#1a1a1a" letter-spacing="0.6" stroke="#1a1a1a" stroke-width="0.18">35KDa</text>
<rect x="562.5" y="330.6" width="58.5" height="20.8" fill="#e0e0e4"/>
<rect x="569.5" y="340.2" width="18.3" height="3.4" rx="1.7" fill="#111" filter="url(#b0_60)"/>
<rect x="595.9" y="340.2" width="21.3" height="3.4" rx="1.7" fill="#111" filter="url(#b0_60)"/>
<rect x="562.5" y="330.6" width="58.5" height="20.8" fill="none" stroke="#787878" stroke-width="0.9"/>
<text x="560" y="343" font-size="8.8" text-anchor="end" fill="#1a1a1a" letter-spacing="0.5" stroke="#1a1a1a" stroke-width="0.18">β-actin</text>
<text x="621.8" y="342.4" font-size="8.8" fill="#1a1a1a" letter-spacing="0.6" stroke="#1a1a1a" stroke-width="0.18">42KDa</text>
<text x="0" y="374.6" font-size="14" font-weight="bold" fill="#231815">E</text>
<text x="97.8" y="374.3" font-size="13.5" font-weight="bold" text-anchor="middle">786-O</text>
<circle cx="72.2" cy="382.3" r="2.4" fill="#d2232f"/>
<text x="78.5" y="384.42" font-size="5.9" fill="#222">PLOD2-KO (-) Hypoxia (-)</text>
<rect x="69.8" y="389.4" width="4.8" height="4.8" fill="#111111"/>
<text x="78.5" y="393.92" font-size="5.9" fill="#222">PLOD2-KO (-) Hypoxia (+)</text>
<path d="M72.2 399.96L74.84 404.52L69.56 404.52Z" fill="#3f62a0"/>
<text x="78.5" y="404.82" font-size="5.9" fill="#222">PLOD2-KO (+) Hypoxia (-)</text>
<path d="M72.2 416.44L74.84 411.88L69.56 411.88Z" fill="#f0a838"/>
<text x="78.5" y="415.82" font-size="5.9" fill="#222">PLOD2-KO (+) Hypoxia (+)</text>
<line x1="34.6" y1="472.7" x2="34.6" y2="520" stroke="#333" stroke-width="1"/>
<line x1="32.1" y1="520" x2="34.6" y2="520" stroke="#333" stroke-width="1"/>
<text x="30.6" y="522.74" font-size="7.6" font-weight="bold" text-anchor="end">0</text>
<line x1="32.1" y1="506.55" x2="34.6" y2="506.55" stroke="#333" stroke-width="1"/>
<text x="30.6" y="509.29" font-size="7.6" font-weight="bold" text-anchor="end">1</text>
<line x1="32.1" y1="493.1" x2="34.6" y2="493.1" stroke="#333" stroke-width="1"/>
<text x="30.6" y="495.84" font-size="7.6" font-weight="bold" text-anchor="end">2</text>
<line x1="32.1" y1="479.65" x2="34.6" y2="479.65" stroke="#333" stroke-width="1"/>
<text x="30.6" y="482.39" font-size="7.6" font-weight="bold" text-anchor="end">3</text>
<line x1="34.6" y1="418.7" x2="34.6" y2="465.5" stroke="#333" stroke-width="1"/>
<line x1="32.1" y1="459.2" x2="34.6" y2="459.2" stroke="#333" stroke-width="1"/>
<text x="30.6" y="461.94" font-size="7.6" font-weight="bold" text-anchor="end">15</text>
<line x1="32.1" y1="445.7" x2="34.6" y2="445.7" stroke="#333" stroke-width="1"/>
<text x="30.6" y="448.44" font-size="7.6" font-weight="bold" text-anchor="end">20</text>
<line x1="32.1" y1="432.2" x2="34.6" y2="432.2" stroke="#333" stroke-width="1"/>
<text x="30.6" y="434.94" font-size="7.6" font-weight="bold" text-anchor="end">25</text>
<line x1="32.1" y1="418.7" x2="34.6" y2="418.7" stroke="#333" stroke-width="1"/>
<text x="30.6" y="421.44" font-size="7.6" font-weight="bold" text-anchor="end">30</text>
<text transform="translate(17 460.5) rotate(-90)" font-size="9.6" font-weight="bold" text-anchor="middle">Relative mRNA expression</text>
<line x1="34.6" y1="520" x2="185.2" y2="520" stroke="#333" stroke-width="1"/>
<line x1="54" y1="520" x2="54" y2="522.5" stroke="#333" stroke-width="1"/>
<line x1="90.7" y1="520" x2="90.7" y2="522.5" stroke="#333" stroke-width="1"/>
<line x1="127.4" y1="520" x2="127.4" y2="522.5" stroke="#333" stroke-width="1"/>
<line x1="164.5" y1="520" x2="164.5" y2="522.5" stroke="#333" stroke-width="1"/>
<path d="M40.65 520V507H46.05V520" fill="#fff" stroke="#e0555e" stroke-width="0.9"/>
<circle cx="42.09" cy="506.28" r="1.8" fill="#d2232f"/>
<circle cx="43.35" cy="506.55" r="1.8" fill="#d2232f"/>
<circle cx="44.61" cy="506.82" r="1.8" fill="#d2232f"/>
<path d="M48.15 520V509.96H53.55V520" fill="#fff" stroke="#333" stroke-width="0.9"/>
<rect x="47.79" y="506.77" width="3.6" height="3.6" fill="#111111"/>
<rect x="49.05" y="508.11" width="3.6" height="3.6" fill="#111111"/>
<rect x="50.31" y="508.52" width="3.6" height="3.6" fill="#111111"/>
<path d="M55.65 520V447.5H61.05V520" fill="#fff" stroke="#6582b2" stroke-width="0.9"/>
<line x1="58.35" y1="447.05" x2="58.35" y2="434.9" stroke="#3f62a0" stroke-width="0.9"/>
<line x1="56.15" y1="434.9" x2="60.55" y2="434.9" stroke="#3f62a0" stroke-width="0.9"/>
<path d="M57.09 442.3L59.07 445.72L55.11 445.72Z" fill="#3f62a0"/>
<path d="M58.35 446.35L60.33 449.77L56.37 449.77Z" fill="#3f62a0"/>
<path d="M59.61 447.7L61.59 451.12L57.63 451.12Z" fill="#3f62a0"/>
<path d="M63.15 520V482.79H68.55V520" fill="#fff" stroke="#f2b860" stroke-width="0.9"/>
<path d="M64.59 483.72L66.57 480.3L62.61 480.3Z" fill="#f0a838"/>
<path d="M65.85 484.39L67.83 480.97L63.87 480.97Z" fill="#f0a838"/>
<path d="M67.11 484.66L69.09 481.24L65.13 481.24Z" fill="#f0a838"/>
<path d="M77.35 520V507H82.75V520" fill="#fff" stroke="#e0555e" stroke-width="0.9"/>
<circle cx="78.79" cy="506.28" r="1.8" fill="#d2232f"/>
<circle cx="80.05" cy="506.55" r="1.8" fill="#d2232f"/>
<circle cx="81.31" cy="506.82" r="1.8" fill="#d2232f"/>
<path d="M84.85 520V482.79H90.25V520" fill="#fff" stroke="#333" stroke-width="0.9"/>
<rect x="84.49" y="479.87" width="3.6" height="3.6" fill="#111111"/>
<rect x="85.75" y="480.54" width="3.6" height="3.6" fill="#111111"/>
<rect x="87.01" y="481.21" width="3.6" height="3.6" fill="#111111"/>
<path d="M92.35 520V510.36H97.75V520" fill="#fff" stroke="#6582b2" stroke-width="0.9"/>
<path d="M93.79 507.46L95.77 510.88L91.81 510.88Z" fill="#3f62a0"/>
<path d="M95.05 508.13L97.03 511.55L93.07 511.55Z" fill="#3f62a0"/>
<path d="M96.31 508.53L98.29 511.95L94.33 511.95Z" fill="#3f62a0"/>
<path d="M99.85 520V492.2H105.25V520" fill="#fff" stroke="#f2b860" stroke-width="0.9"/>
<line x1="102.55" y1="491.75" x2="102.55" y2="487.72" stroke="#f0a838" stroke-width="0.9"/>
<line x1="100.35" y1="487.72" x2="104.75" y2="487.72" stroke="#f0a838" stroke-width="0.9"/>
<path d="M101.29 490.44L103.27 487.02L99.31 487.02Z" fill="#f0a838"/>
<path d="M102.55 493.81L104.53 490.39L100.57 490.39Z" fill="#f0a838"/>
<path d="M103.81 495.82L105.79 492.4L101.83 492.4Z" fill="#f0a838"/>
<path d="M114.05 520V507H119.45V520" fill="#fff" stroke="#e0555e" stroke-width="0.9"/>
<circle cx="115.49" cy="506.28" r="1.8" fill="#d2232f"/>
<circle cx="116.75" cy="506.55" r="1.8" fill="#d2232f"/>
<circle cx="118.01" cy="506.82" r="1.8" fill="#d2232f"/>
<path d="M121.55 520V498.93H126.95V520" fill="#fff" stroke="#333" stroke-width="0.9"/>
<rect x="121.19" y="496.41" width="3.6" height="3.6" fill="#111111"/>
<rect x="122.45" y="496.68" width="3.6" height="3.6" fill="#111111"/>
<rect x="123.71" y="496.95" width="3.6" height="3.6" fill="#111111"/>
<path d="M129.05 520V511.03H134.45V520" fill="#fff" stroke="#6582b2" stroke-width="0.9"/>
<path d="M130.49 508.26L132.47 511.68L128.51 511.68Z" fill="#3f62a0"/>
<path d="M131.75 508.53L133.73 511.95L129.77 511.95Z" fill="#3f62a0"/>
<path d="M133.01 508.8L134.99 512.22L131.03 512.22Z" fill="#3f62a0"/>
<path d="M136.55 520V505.65H141.95V520" fill="#fff" stroke="#f2b860" stroke-width="0.9"/>
<path d="M137.99 506.99L139.97 503.57L136.01 503.57Z" fill="#f0a838"/>
<path d="M139.25 507.26L141.23 503.84L137.27 503.84Z" fill="#f0a838"/>
<path d="M140.51 507.53L142.49 504.11L138.53 504.11Z" fill="#f0a838"/>
<path d="M151.15 520V506.33H156.55V520" fill="#fff" stroke="#e0555e" stroke-width="0.9"/>
<circle cx="152.59" cy="505.2" r="1.8" fill="#d2232f"/>
<circle cx="153.85" cy="505.88" r="1.8" fill="#d2232f"/>
<circle cx="155.11" cy="506.55" r="1.8" fill="#d2232f"/>
<path d="M158.65 520V485.48H164.05V520" fill="#fff" stroke="#333" stroke-width="0.9"/>
<line x1="161.35" y1="485.03" x2="161.35" y2="481" stroke="#111111" stroke-width="0.9"/>
<line x1="159.15" y1="481" x2="163.55" y2="481" stroke="#111111" stroke-width="0.9"/>
<rect x="158.29" y="479.87" width="3.6" height="3.6" fill="#111111"/>
<rect x="159.55" y="483.9" width="3.6" height="3.6" fill="#111111"/>
<rect x="160.81" y="484.57" width="3.6" height="3.6" fill="#111111"/>
<path d="M166.15 520V512.11H171.55V520" fill="#fff" stroke="#6582b2" stroke-width="0.9"/>
<path d="M167.59 509.21L169.57 512.63L165.61 512.63Z" fill="#3f62a0"/>
<path d="M168.85 509.61L170.83 513.03L166.87 513.03Z" fill="#3f62a0"/>
<path d="M170.11 509.88L172.09 513.3L168.13 513.3Z" fill="#3f62a0"/>
<path d="M173.65 520V506.33H179.05V520" fill="#fff" stroke="#f2b860" stroke-width="0.9"/>
<path d="M175.09 507.53L177.07 504.11L173.11 504.11Z" fill="#f0a838"/>
<path d="M176.35 507.93L178.33 504.51L174.37 504.51Z" fill="#f0a838"/>
<path d="M177.61 508.33L179.59 504.91L175.63 504.91Z" fill="#f0a838"/>
<rect x="31.6" y="466" width="100" height="6.2" fill="#fff"/>
<line x1="32.1" y1="465.5" x2="37.6" y2="465.5" stroke="#333" stroke-width="1"/>
<line x1="32.1" y1="472.7" x2="37.6" y2="472.7" stroke="#333" stroke-width="1"/>
<line x1="39.2" y1="424" x2="61.2" y2="424" stroke="#333" stroke-width="0.8"/>
<text x="50.2" y="424.4" font-size="5.9" text-anchor="middle" fill="#222">***</text>
<line x1="57.4" y1="431" x2="68.4" y2="431" stroke="#333" stroke-width="0.8"/>
<text x="62.9" y="431.4" font-size="5.9" text-anchor="middle" fill="#222">***</text>
<line x1="40.2" y1="496.5" x2="50.8" y2="496.5" stroke="#333" stroke-width="0.8"/>
<text x="45.5" y="496.9" font-size="5.9" text-anchor="middle" fill="#222">**</text>
<line x1="76.9" y1="466" x2="98.9" y2="466" stroke="#333" stroke-width="0.8"/>
<text x="87.9" y="466.4" font-size="5.9" text-anchor="middle" fill="#222">**</text>
<line x1="78.5" y1="474.5" x2="90.4" y2="474.5" stroke="#333" stroke-width="0.8"/>
<text x="84.45" y="474.9" font-size="5.9" text-anchor="middle" fill="#222">****</text>
<line x1="94.2" y1="484.9" x2="106.1" y2="484.9" stroke="#333" stroke-width="0.8"/>
<text x="100.15" y="485.3" font-size="5.9" text-anchor="middle" fill="#222">***</text>
<line x1="114.6" y1="481.4" x2="137.2" y2="481.4" stroke="#888" stroke-width="0.8"/>
<text x="125.9" y="481.8" font-size="5.9" text-anchor="middle" fill="#222">**</text>
<line x1="116.8" y1="489.6" x2="128" y2="489.6" stroke="#333" stroke-width="0.8"/>
<text x="122.4" y="490" font-size="5.9" text-anchor="middle" fill="#222">***</text>
<line x1="133.4" y1="501.2" x2="143.8" y2="501.2" stroke="#333" stroke-width="0.8"/>
<text x="138.6" y="501.6" font-size="5.9" text-anchor="middle" fill="#222">**</text>
<line x1="152.9" y1="466" x2="174.2" y2="466" stroke="#333" stroke-width="0.8"/>
<text x="163.55" y="466.4" font-size="5.9" text-anchor="middle" fill="#222">**</text>
<line x1="153.8" y1="474.5" x2="166.4" y2="474.5" stroke="#333" stroke-width="0.8"/>
<text x="160.1" y="474.9" font-size="5.9" text-anchor="middle" fill="#222">***</text>
<line x1="170.4" y1="501.2" x2="181.1" y2="501.2" stroke="#333" stroke-width="0.8"/>
<text x="175.75" y="501.6" font-size="5.9" text-anchor="middle" fill="#222">***</text>
<text transform="translate(57.2 529.3) rotate(-45)" font-size="8" font-weight="bold" text-anchor="end">E-Cadherin</text>
<text transform="translate(94 529.3) rotate(-45)" font-size="8" font-weight="bold" text-anchor="end">N-Cadherin</text>
<text transform="translate(130.4 529.3) rotate(-45)" font-size="8" font-weight="bold" text-anchor="end">Vimentin</text>
<text transform="translate(166.9 529.3) rotate(-45)" font-size="8" font-weight="bold" text-anchor="end">Snail</text>
<text x="294.4" y="373.9" font-size="13" font-weight="bold" text-anchor="middle">OS-RC-2</text>
<circle cx="262.9" cy="381.4" r="2.4" fill="#d2232f"/>
<text x="269.4" y="383.52" font-size="5.9" fill="#222">PLOD2-KO (-) Hypoxia (-)</text>
<rect x="260.5" y="388.6" width="4.8" height="4.8" fill="#111111"/>
<text x="269.4" y="393.12" font-size="5.9" fill="#222">PLOD2-KO (-) Hypoxia (+)</text>
<path d="M262.9 399.56L265.54 404.12L260.26 404.12Z" fill="#3f62a0"/>
<text x="269.4" y="404.42" font-size="5.9" fill="#222">PLOD2-KO (+) Hypoxia (-)</text>
<path d="M262.9 416.04L265.54 411.48L260.26 411.48Z" fill="#f0a838"/>
<text x="269.4" y="415.42" font-size="5.9" fill="#222">PLOD2-KO (+) Hypoxia (+)</text>
<line x1="222.5" y1="416.1" x2="222.5" y2="521.4" stroke="#333" stroke-width="1"/>
<line x1="220" y1="521.4" x2="222.5" y2="521.4" stroke="#333" stroke-width="1"/>
<text x="218.5" y="524.14" font-size="7.6" font-weight="bold" text-anchor="end">0</text>
<line x1="220" y1="486.3" x2="222.5" y2="486.3" stroke="#333" stroke-width="1"/>
<text x="218.5" y="489.04" font-size="7.6" font-weight="bold" text-anchor="end">1</text>
<line x1="220" y1="451.2" x2="222.5" y2="451.2" stroke="#333" stroke-width="1"/>
<text x="218.5" y="453.94" font-size="7.6" font-weight="bold" text-anchor="end">2</text>
<line x1="220" y1="416.1" x2="222.5" y2="416.1" stroke="#333" stroke-width="1"/>
<text x="218.5" y="418.84" font-size="7.6" font-weight="bold" text-anchor="end">3</text>
<text transform="translate(204.8 463.5) rotate(-90)" font-size="9.6" font-weight="bold" text-anchor="middle">Relative mRNA expression</text>
<line x1="222.5" y1="521.4" x2="378.5" y2="521.4" stroke="#333" stroke-width="1"/>
<line x1="243" y1="521.4" x2="243" y2="523.9" stroke="#333" stroke-width="1"/>
<line x1="281.4" y1="521.4" x2="281.4" y2="523.9" stroke="#333" stroke-width="1"/>
<line x1="319.5" y1="521.4" x2="319.5" y2="523.9" stroke="#333" stroke-width="1"/>
<line x1="357.9" y1="521.4" x2="357.9" y2="523.9" stroke="#333" stroke-width="1"/>
<path d="M228.05 521.4V486.75H234.35V521.4" fill="#fff" stroke="#e0555e" stroke-width="0.9"/>
<circle cx="229.76" cy="486.3" r="2" fill="#d2232f"/>
<circle cx="231.2" cy="486.65" r="2" fill="#d2232f"/>
<circle cx="232.64" cy="487" r="2" fill="#d2232f"/>
<path d="M235.85 521.4V500.79H242.15V521.4" fill="#fff" stroke="#333" stroke-width="0.9"/>
<line x1="239" y1="500.34" x2="239" y2="497.53" stroke="#111111" stroke-width="0.9"/>
<line x1="236.8" y1="497.53" x2="241.2" y2="497.53" stroke="#111111" stroke-width="0.9"/>
<rect x="235.56" y="495.53" width="4" height="4" fill="#111111"/>
<rect x="237" y="498.34" width="4" height="4" fill="#111111"/>
<rect x="238.44" y="500.09" width="4" height="4" fill="#111111"/>
<path d="M243.65 521.4V440.07H249.95V521.4" fill="#fff" stroke="#6582b2" stroke-width="0.9"/>
<path d="M245.36 434.88L247.56 438.68L243.16 438.68Z" fill="#3f62a0"/>
<path d="M246.8 438.39L249 442.19L244.6 442.19Z" fill="#3f62a0"/>
<path d="M248.24 438.39L250.44 442.19L246.04 442.19Z" fill="#3f62a0"/>
<path d="M251.45 521.4V448.14H257.75V521.4" fill="#fff" stroke="#f2b860" stroke-width="0.9"/>
<line x1="254.6" y1="447.69" x2="254.6" y2="442.42" stroke="#f0a838" stroke-width="0.9"/>
<line x1="252.4" y1="442.42" x2="256.8" y2="442.42" stroke="#f0a838" stroke-width="0.9"/>
<path d="M253.16 444.7L255.36 440.9L250.96 440.9Z" fill="#f0a838"/>
<path d="M254.6 449.97L256.8 446.17L252.4 446.17Z" fill="#f0a838"/>
<path d="M256.04 455.23L258.24 451.44L253.84 451.44Z" fill="#f0a838"/>
<path d="M266.45 521.4V486.75H272.75V521.4" fill="#fff" stroke="#e0555e" stroke-width="0.9"/>
<circle cx="268.16" cy="484.54" r="2" fill="#d2232f"/>
<circle cx="269.6" cy="487" r="2" fill="#d2232f"/>
<circle cx="271.04" cy="487.35" r="2" fill="#d2232f"/>
<path d="M274.25 521.4V482.19H280.55V521.4" fill="#fff" stroke="#333" stroke-width="0.9"/>
<rect x="273.96" y="479.03" width="4" height="4" fill="#111111"/>
<rect x="275.4" y="479.74" width="4" height="4" fill="#111111"/>
<rect x="276.84" y="480.09" width="4" height="4" fill="#111111"/>
<path d="M282.05 521.4V518.34H288.35V521.4" fill="#fff" stroke="#6582b2" stroke-width="0.9"/>
<path d="M283.76 514.91L285.96 518.71L281.56 518.71Z" fill="#3f62a0"/>
<path d="M285.2 515.61L287.4 519.41L283 519.41Z" fill="#3f62a0"/>
<path d="M286.64 515.96L288.84 519.76L284.44 519.76Z" fill="#3f62a0"/>
<path d="M289.85 521.4V518.34H296.15V521.4" fill="#fff" stroke="#f2b860" stroke-width="0.9"/>
<path d="M291.56 519.82L293.76 516.02L289.36 516.02Z" fill="#f0a838"/>
<path d="M293 520.17L295.2 516.37L290.8 516.37Z" fill="#f0a838"/>
<path d="M294.44 520.52L296.64 516.72L292.24 516.72Z" fill="#f0a838"/>
<path d="M304.55 521.4V486.75H310.85V521.4" fill="#fff" stroke="#e0555e" stroke-width="0.9"/>
<circle cx="306.26" cy="485.25" r="2" fill="#d2232f"/>
<circle cx="307.7" cy="487" r="2" fill="#d2232f"/>
<circle cx="309.14" cy="487" r="2" fill="#d2232f"/>
<path d="M312.35 521.4V472.71H318.65V521.4" fill="#fff" stroke="#333" stroke-width="0.9"/>
<line x1="315.5" y1="472.26" x2="315.5" y2="467" stroke="#111111" stroke-width="0.9"/>
<line x1="313.3" y1="467" x2="317.7" y2="467" stroke="#111111" stroke-width="0.9"/>
<rect x="312.06" y="465" width="4" height="4" fill="#111111"/>
<rect x="313.5" y="470.96" width="4" height="4" fill="#111111"/>
<rect x="314.94" y="472.01" width="4" height="4" fill="#111111"/>
<path d="M320.15 521.4V502.54H326.45V521.4" fill="#fff" stroke="#6582b2" stroke-width="0.9"/>
<path d="M321.86 499.46L324.06 503.26L319.66 503.26Z" fill="#3f62a0"/>
<path d="M323.3 499.81L325.5 503.61L321.1 503.61Z" fill="#3f62a0"/>
<path d="M324.74 500.17L326.94 503.97L322.54 503.97Z" fill="#3f62a0"/>
<path d="M327.95 521.4V500.79H334.25V521.4" fill="#fff" stroke="#f2b860" stroke-width="0.9"/>
<path d="M329.66 499.11L331.86 495.31L327.46 495.31Z" fill="#f0a838"/>
<path d="M331.1 502.62L333.3 498.82L328.9 498.82Z" fill="#f0a838"/>
<path d="M332.54 504.37L334.74 500.57L330.34 500.57Z" fill="#f0a838"/>
<path d="M342.95 521.4V486.75H349.25V521.4" fill="#fff" stroke="#e0555e" stroke-width="0.9"/>
<circle cx="344.66" cy="484.9" r="2" fill="#d2232f"/>
<circle cx="346.1" cy="486.3" r="2" fill="#d2232f"/>
<circle cx="347.54" cy="487.35" r="2" fill="#d2232f"/>
<path d="M350.75 521.4V472.71H357.05V521.4" fill="#fff" stroke="#333" stroke-width="0.9"/>
<rect x="350.46" y="465" width="4" height="4" fill="#111111"/>
<rect x="351.9" y="469.56" width="4" height="4" fill="#111111"/>
<rect x="353.34" y="470.96" width="4" height="4" fill="#111111"/>
<path d="M358.55 521.4V512.02H364.85V521.4" fill="#fff" stroke="#6582b2" stroke-width="0.9"/>
<path d="M360.26 508.94L362.46 512.74L358.06 512.74Z" fill="#3f62a0"/>
<path d="M361.7 509.29L363.9 513.09L359.5 513.09Z" fill="#3f62a0"/>
<path d="M363.14 509.64L365.34 513.44L360.94 513.44Z" fill="#3f62a0"/>
<path d="M366.35 521.4V512.02H372.65V521.4" fill="#fff" stroke="#f2b860" stroke-width="0.9"/>
<path d="M368.06 512.1L370.26 508.3L365.86 508.3Z" fill="#f0a838"/>
<path d="M369.5 514.2L371.7 510.4L367.3 510.4Z" fill="#f0a838"/>
<path d="M370.94 514.9L373.14 511.11L368.74 511.11Z" fill="#f0a838"/>
<line x1="227.6" y1="421.9" x2="248.9" y2="421.9" stroke="#333" stroke-width="0.8"/>
<text x="238.25" y="422.3" font-size="5.9" text-anchor="middle" fill="#222">****</text>
<line x1="244.1" y1="429.8" x2="255.7" y2="429.8" stroke="#333" stroke-width="0.8"/>
<text x="249.9" y="428" font-size="6.3" text-anchor="middle" fill="#333">ns</text>
<line x1="228.6" y1="471.6" x2="240.6" y2="471.6" stroke="#333" stroke-width="0.8"/>
<text x="234.6" y="472" font-size="5.9" text-anchor="middle" fill="#222">***</text>
<line x1="265.3" y1="465.5" x2="286.9" y2="465.5" stroke="#333" stroke-width="0.8"/>
<text x="276.1" y="465.9" font-size="5.9" text-anchor="middle" fill="#222">****</text>
<line x1="266.4" y1="473.4" x2="279" y2="473.4" stroke="#333" stroke-width="0.8"/>
<text x="272.7" y="473.8" font-size="5.9" text-anchor="middle" fill="#222">*</text>
<line x1="283.5" y1="503.2" x2="294.5" y2="503.2" stroke="#333" stroke-width="0.8"/>
<text x="289" y="503.6" font-size="5.9" text-anchor="middle" fill="#222">**</text>
<line x1="303" y1="448.3" x2="325.4" y2="448.3" stroke="#333" stroke-width="0.8"/>
<text x="314.2" y="448.7" font-size="5.9" text-anchor="middle" fill="#222">***</text>
<line x1="305.5" y1="456.9" x2="316.8" y2="456.9" stroke="#333" stroke-width="0.8"/>
<text x="311.15" y="457.3" font-size="5.9" text-anchor="middle" fill="#222">**</text>
<line x1="322.6" y1="486" x2="332.9" y2="486" stroke="#333" stroke-width="0.8"/>
<text x="327.75" y="484.2" font-size="6.3" text-anchor="middle" fill="#333">ns</text>
<line x1="342.5" y1="451.7" x2="364.8" y2="451.7" stroke="#888" stroke-width="0.8"/>
<text x="353.65" y="452.1" font-size="5.9" text-anchor="middle" fill="#222">****</text>
<line x1="343.2" y1="459.6" x2="356.2" y2="459.6" stroke="#333" stroke-width="0.8"/>
<text x="349.7" y="460" font-size="5.9" text-anchor="middle" fill="#222">**</text>
<line x1="361.4" y1="496.3" x2="372.7" y2="496.3" stroke="#888" stroke-width="0.8"/>
<text x="367.05" y="494.5" font-size="6.3" text-anchor="middle" fill="#333">ns</text>
<text transform="translate(246.5 530.2) rotate(-45)" font-size="8.2" font-weight="bold" text-anchor="end">E-Cadherin</text>
<text transform="translate(283.8 530.2) rotate(-45)" font-size="8.2" font-weight="bold" text-anchor="end">N-Cadherin</text>
<text transform="translate(321.9 530.2) rotate(-45)" font-size="8.2" font-weight="bold" text-anchor="end">Vimentin</text>
<text transform="translate(360 530.2) rotate(-45)" font-size="8.2" font-weight="bold" text-anchor="end">Snail</text>
<text x="371.7" y="380.7" font-size="14" font-weight="bold" fill="#231815">F</text>
<text x="455.5" y="394.2" font-size="13.8" font-weight="bold" text-anchor="middle">786-O</text>
<text x="387.7" y="410.2" font-size="6.9" fill="#111">PLOD2-KO</text>
<text x="389.2" y="421.3" font-size="7" fill="#111" letter-spacing="0.4">Hypoxia</text>
<line x1="430.3" y1="405.8" x2="433.5" y2="405.8" stroke="#111" stroke-width="1.3"/>
<line x1="430.3" y1="420" x2="433.5" y2="420" stroke="#111" stroke-width="1.3"/>
<line x1="447.4" y1="405.8" x2="450.6" y2="405.8" stroke="#111" stroke-width="1.3"/>
<line x1="446.8" y1="420" x2="451.2" y2="420" stroke="#111" stroke-width="1.3"/>
<line x1="449" y1="417.8" x2="449" y2="422.2" stroke="#111" stroke-width="1.3"/>
<line x1="463.8" y1="405.8" x2="468.2" y2="405.8" stroke="#111" stroke-width="1.3"/>
<line x1="466" y1="403.6" x2="466" y2="408" stroke="#111" stroke-width="1.3"/>
<line x1="464.4" y1="420" x2="467.6" y2="420" stroke="#111" stroke-width="1.3"/>
<line x1="477.9" y1="405.8" x2="482.3" y2="405.8" stroke="#111" stroke-width="1.3"/>
<line x1="480.1" y1="403.6" x2="480.1" y2="408" stroke="#111" stroke-width="1.3"/>
<line x1="477.9" y1="420" x2="482.3" y2="420" stroke="#111" stroke-width="1.3"/>
<line x1="480.1" y1="417.8" x2="480.1" y2="422.2" stroke="#111" stroke-width="1.3"/>
<rect x="424.5" y="425.3" width="62.1" height="17.8" fill="#e6e6e8"/>
<rect x="427" y="431.9" width="12" height="2.6" rx="1.3" fill="#333" filter="url(#b0_70)"/>
<rect x="443" y="431.6" width="12.5" height="3.6" rx="1.8" fill="#000" filter="url(#b0_70)"/>
<rect x="458.8" y="433" width="11" height="2" rx="1" fill="#aaa" filter="url(#b0_90)"/>
<rect x="473" y="433.2" width="10" height="1.6" rx="0.8" fill="#bbb" filter="url(#b0_90)"/>
<rect x="424.5" y="425.3" width="62.1" height="17.8" fill="none" stroke="#787878" stroke-width="0.9"/>
<text x="422" y="437.2" font-size="8.3" text-anchor="end" fill="#1a1a1a" stroke="#1a1a1a" stroke-width="0.18">N-cadherin</text>
<text x="487" y="438.1" font-size="8.6" fill="#1a1a1a" letter-spacing="0.6" stroke="#1a1a1a" stroke-width="0.18">140KDa</text>
<rect x="424.5" y="446.3" width="62.1" height="18" fill="#e8e8ea"/>
<rect x="428.2" y="454.4" width="10.5" height="2.2" rx="1.1" fill="#555" filter="url(#b0_70)"/>
<rect x="458.4" y="453.5" width="10.9" height="3.4" rx="1.7" fill="#111" filter="url(#b0_70)"/>
<rect x="473" y="454.3" width="11" height="2.4" rx="1.2" fill="#777" filter="url(#b0_80)"/>
<rect x="424.5" y="446.3" width="62.1" height="18" fill="none" stroke="#787878" stroke-width="0.9"/>
<text x="422" y="458.3" font-size="8.3" text-anchor="end" fill="#1a1a1a" stroke="#1a1a1a" stroke-width="0.18">E-cadherin</text>
<text x="487" y="459.2" font-size="8.6" fill="#1a1a1a" letter-spacing="0.6" stroke="#1a1a1a" stroke-width="0.18">135KDa</text>
<rect x="424.5" y="468.7" width="62.1" height="17.9" fill="#ececee"/>
<rect x="426" y="476.2" width="13.1" height="3.4" rx="1.7" fill="#111" filter="url(#b0_60)"/>
<rect x="441.3" y="475.8" width="14.2" height="4.2" rx="2.1" fill="#000" filter="url(#b0_60)"/>
<rect x="456.6" y="477" width="11" height="2.4" rx="1.2" fill="#777" filter="url(#b0_70)"/>
<rect x="472" y="476.8" width="11.4" height="2.8" rx="1.4" fill="#666" filter="url(#b0_70)"/>
<rect x="424.5" y="468.7" width="62.1" height="17.9" fill="none" stroke="#787878" stroke-width="0.9"/>
<text x="422" y="480.65" font-size="8.3" text-anchor="end" fill="#1a1a1a" stroke="#1a1a1a" stroke-width="0.18">Vimentin</text>
<text x="489.5" y="481.55" font-size="8.6" fill="#1a1a1a" letter-spacing="0.6" stroke="#1a1a1a" stroke-width="0.18">57KDa</text>
<rect x="424.5" y="490.6" width="62.1" height="17.1" fill="#e0e0e4"/>
<rect x="426.6" y="496.3" width="11.4" height="5.2" rx="2.6" fill="#050505" filter="url(#b0_90)"/>
<rect x="441.3" y="495" width="12.1" height="7" rx="3.5" fill="#000" filter="url(#b0_90)"/>
<rect x="458" y="498" width="8" height="3" rx="1.5" fill="#b0b0b0" filter="url(#b1_20)"/>
<rect x="472" y="498.5" width="6" height="2" rx="1" fill="#c8c8c8" filter="url(#b1_00)"/>
<rect x="424.5" y="490.6" width="62.1" height="17.1" fill="none" stroke="#787878" stroke-width="0.9"/>
<text x="422" y="502.15" font-size="8.3" text-anchor="end" fill="#1a1a1a" stroke="#1a1a1a" stroke-width="0.18">Snail</text>
<text x="489.5" y="503.05" font-size="8.6" fill="#1a1a1a" letter-spacing="0.6" stroke="#1a1a1a" stroke-width="0.18">29KDa</text>
<rect x="424.5" y="511.4" width="62.1" height="17.5" fill="#dcdce0"/>
<rect x="426" y="518.8" width="11.4" height="4" rx="2" fill="#0a0a0a" filter="url(#b0_60)"/>
<rect x="440.9" y="518.8" width="13.1" height="4" rx="2" fill="#0a0a0a" filter="url(#b0_60)"/>
<rect x="456.2" y="518.5" width="11.4" height="4" rx="2" fill="#0a0a0a" filter="url(#b0_60)"/>
<rect x="470.9" y="518.3" width="12" height="4" rx="2" fill="#0a0a0a" filter="url(#b0_60)"/>
<rect x="424.5" y="511.4" width="62.1" height="17.5" fill="none" stroke="#787878" stroke-width="0.9"/>
<text x="422" y="523.15" font-size="8.3" text-anchor="end" fill="#1a1a1a" stroke="#1a1a1a" stroke-width="0.18">β-actin</text>
<text x="489.5" y="524.05" font-size="8.6" fill="#1a1a1a" letter-spacing="0.6" stroke="#1a1a1a" stroke-width="0.18">42KDa</text>
<text x="614.9" y="394.6" font-size="14" font-weight="bold" text-anchor="middle">OS-RC-2</text>
<text x="546.4" y="409.7" font-size="6.9" fill="#111">PLOD2-KO</text>
<text x="549.2" y="420.7" font-size="7" fill="#111" letter-spacing="0.4">Hypoxia</text>
<line x1="589.9" y1="405.5" x2="593.1" y2="405.5" stroke="#111" stroke-width="1.3"/>
<line x1="589.9" y1="420" x2="593.1" y2="420" stroke="#111" stroke-width="1.3"/>
<line x1="607.4" y1="405.5" x2="610.6" y2="405.5" stroke="#111" stroke-width="1.3"/>
<line x1="606.8" y1="420" x2="611.2" y2="420" stroke="#111" stroke-width="1.3"/>
<line x1="609" y1="417.8" x2="609" y2="422.2" stroke="#111" stroke-width="1.3"/>
<line x1="622.6" y1="405.5" x2="627" y2="405.5" stroke="#111" stroke-width="1.3"/>
<line x1="624.8" y1="403.3" x2="624.8" y2="407.7" stroke="#111" stroke-width="1.3"/>
<line x1="623.2" y1="420" x2="626.4" y2="420" stroke="#111" stroke-width="1.3"/>
<line x1="637.5" y1="405.5" x2="641.9" y2="405.5" stroke="#111" stroke-width="1.3"/>
<line x1="639.7" y1="403.3" x2="639.7" y2="407.7" stroke="#111" stroke-width="1.3"/>
<line x1="637.5" y1="420" x2="641.9" y2="420" stroke="#111" stroke-width="1.3"/>
<line x1="639.7" y1="417.8" x2="639.7" y2="422.2" stroke="#111" stroke-width="1.3"/>
<rect x="583.6" y="425.2" width="61.5" height="17.5" fill="#e4e4e6"/>
<rect x="587.1" y="432.4" width="11.4" height="2.2" rx="1.1" fill="#666" filter="url(#b0_80)"/>
<rect x="602.9" y="432.2" width="10.5" height="2.6" rx="1.3" fill="#444" filter="url(#b0_80)"/>
<rect x="583.6" y="425.2" width="61.5" height="17.5" fill="none" stroke="#787878" stroke-width="0.9"/>
<text x="581.6" y="436.95" font-size="8.3" text-anchor="end" fill="#1a1a1a" stroke="#1a1a1a" stroke-width="0.18">N-cadherin</text>
<text x="646.2" y="437.85" font-size="8.6" fill="#1a1a1a" letter-spacing="0.6" stroke="#1a1a1a" stroke-width="0.18">140KDa</text>
<rect x="583.6" y="446.2" width="61.5" height="16.5" fill="#d4d4d8"/>
<rect x="584.5" y="450.5" width="15.5" height="8" rx="4" fill="#c8c8cc" filter="url(#b2_50)"/>
<rect x="612.7" y="452.7" width="12.1" height="3.2" rx="1.6" fill="#050505" filter="url(#b0_60)"/>
<rect x="628" y="452.7" width="12.5" height="3.2" rx="1.6" fill="#050505" filter="url(#b0_60)"/>
<rect x="583.6" y="446.2" width="61.5" height="16.5" fill="none" stroke="#787878" stroke-width="0.9"/>
<text x="581.6" y="457.45" font-size="8.3" text-anchor="end" fill="#1a1a1a" stroke="#1a1a1a" stroke-width="0.18">E-cadherin</text>
<text x="646.2" y="458.35" font-size="8.6" fill="#1a1a1a" letter-spacing="0.6" stroke="#1a1a1a" stroke-width="0.18">135KDa</text>
<rect x="583.6" y="468.6" width="61.5" height="17.5" fill="#e0e0e4"/>
<rect x="586.5" y="475.7" width="13.8" height="5.4" rx="2.7" fill="#000" filter="url(#b0_70)"/>
<rect x="600.7" y="476.1" width="14.2" height="5" rx="2.5" fill="#000" filter="url(#b0_70)"/>
<rect x="617.1" y="477.3" width="9.9" height="3" rx="1.5" fill="#777" filter="url(#b0_90)"/>
<rect x="631.3" y="477.3" width="12.1" height="3" rx="1.5" fill="#8a8a8a" filter="url(#b1_00)"/>
<rect x="583.6" y="468.6" width="61.5" height="17.5" fill="none" stroke="#787878" stroke-width="0.9"/>
<text x="581.6" y="480.35" font-size="8.3" text-anchor="end" fill="#1a1a1a" stroke="#1a1a1a" stroke-width="0.18">Vimentin</text>
<text x="647.5" y="481.25" font-size="8.6" fill="#1a1a1a" letter-spacing="0.6" stroke="#1a1a1a" stroke-width="0.18">57KDa</text>
<rect x="583.6" y="490" width="61.5" height="18" fill="#e4e4e8"/>
<rect x="587.5" y="494.3" width="12.1" height="10" rx="2.5" fill="#000" filter="url(#b0_90)"/>
<rect x="600.7" y="495" width="12.7" height="8" rx="2.5" fill="#000" filter="url(#b0_90)"/>
<rect x="619.3" y="495.3" width="9.9" height="3.4" rx="1.7" fill="#080808" filter="url(#b0_70)"/>
<rect x="634.6" y="495.3" width="8.8" height="2.4" rx="1.2" fill="#111" filter="url(#b0_60)"/>
<rect x="583.6" y="490" width="61.5" height="18" fill="none" stroke="#787878" stroke-width="0.9"/>
<text x="581.6" y="502" font-size="8.3" text-anchor="end" fill="#1a1a1a" stroke="#1a1a1a" stroke-width="0.18">Snail</text>
<text x="647.5" y="502.9" font-size="8.6" fill="#1a1a1a" letter-spacing="0.6" stroke="#1a1a1a" stroke-width="0.18">29KDa</text>
<rect x="583.6" y="511.9" width="61.5" height="17.5" fill="#e2e2e6"/>
<rect x="588.6" y="520" width="9.9" height="2.2" rx="1.1" fill="#111" filter="url(#b0_50)"/>
<rect x="604.6" y="520" width="8.1" height="2.2" rx="1.1" fill="#111" filter="url(#b0_50)"/>
<rect x="619.3" y="520.1" width="9.9" height="2" rx="1" fill="#222" filter="url(#b0_50)"/>
<rect x="633.5" y="520" width="9.9" height="2.2" rx="1.1" fill="#111" filter="url(#b0_50)"/>
<rect x="583.6" y="511.9" width="61.5" height="17.5" fill="none" stroke="#787878" stroke-width="0.9"/>
<text x="581.6" y="523.65" font-size="8.3" text-anchor="end" fill="#1a1a1a" stroke="#1a1a1a" stroke-width="0.18">β-actin</text>
<text x="647.5" y="524.55" font-size="8.6" fill="#1a1a1a" letter-spacing="0.6" stroke="#1a1a1a" stroke-width="0.18">42KDa</text>
<text x="18.4" y="581.8" font-size="14" font-weight="bold" fill="#231815">G</text>
<text x="107.4" y="570.4" font-size="6.7" font-weight="bold" text-anchor="middle" fill="#111">786-O</text>
<text x="85.6" y="575.3" font-size="5.3" font-weight="bold" text-anchor="middle" fill="#111">Normoxia</text>
<text x="130.1" y="575.3" font-size="5.2" font-weight="bold" text-anchor="middle" fill="#111">Hypoxia</text>
<rect x="62.2" y="576.8" width="43.5" height="32.6" fill="#dcdae4"/>
<rect x="62.2" y="576.8" width="43.5" height="32.6" fill="#fff" filter="url(#m1)"/>
<rect x="62.2" y="576.8" width="43.5" height="32.6" fill="none" stroke="#777" stroke-width="0.8"/>
<rect x="107.9" y="576.8" width="43.1" height="32.6" fill="#d2d0ea"/>
<rect x="107.9" y="576.8" width="43.1" height="32.6" fill="#fff" filter="url(#m2)"/>
<rect x="107.9" y="576.8" width="43.1" height="32.6" fill="#fff" filter="url(#m3)"/>
<rect x="107.9" y="576.8" width="43.1" height="32.6" fill="none" stroke="#777" stroke-width="0.8"/>
<text transform="translate(60.4 592.8) rotate(-90)" font-size="6.4" text-anchor="middle" fill="#222">Migration</text>
<text x="106.1" y="614.6" font-size="6" font-weight="bold" text-anchor="middle" fill="#111">786-PLOD2-KO</text>
<text x="85.3" y="619.6" font-size="5.3" font-weight="bold" text-anchor="middle" fill="#111">Normoxia</text>
<text x="132" y="619.6" font-size="5.2" font-weight="bold" text-anchor="middle" fill="#111">Hypoxia</text>
<rect x="62.2" y="621.6" width="43.5" height="32.9" fill="#e4e6ee"/>
<rect x="62.2" y="621.6" width="43.5" height="32.9" fill="#fff" filter="url(#m4)"/>
<rect x="62.2" y="621.6" width="43.5" height="32.9" fill="none" stroke="#777" stroke-width="0.8"/>
<rect x="107.9" y="621.6" width="43.1" height="32.9" fill="#e4e4ee"/>
<rect x="107.9" y="621.6" width="43.1" height="32.9" fill="#fff" filter="url(#m5)"/>
<rect x="107.9" y="621.6" width="43.1" height="32.9" fill="none" stroke="#777" stroke-width="0.8"/>
<text transform="translate(60.4 635) rotate(-90)" font-size="6.4" text-anchor="middle" fill="#222">Migration</text>
<text x="108.7" y="664.8" font-size="6.7" font-weight="bold" text-anchor="middle" fill="#111">786-O</text>
<text x="86.9" y="670" font-size="5.3" font-weight="bold" text-anchor="middle" fill="#111">Normoxia</text>
<text x="131.2" y="670" font-size="5.2" font-weight="bold" text-anchor="middle" fill="#111">Hypoxia</text>
<rect x="62.2" y="672.1" width="43.5" height="32.5" fill="#b0aed8"/>
<rect x="62.2" y="672.1" width="43.5" height="32.5" fill="#fff" filter="url(#m6)"/>
<rect x="62.2" y="672.1" width="43.5" height="32.5" fill="none" stroke="#777" stroke-width="0.8"/>
<rect x="107.9" y="672.1" width="43.1" height="32.5" fill="#d6d4ec"/>
<rect x="107.9" y="672.1" width="43.1" height="32.5" fill="#fff" filter="url(#m7)"/>
<rect x="107.9" y="672.1" width="43.1" height="32.5" fill="none" stroke="#777" stroke-width="0.8"/>
<text transform="translate(60.4 686.5) rotate(-90)" font-size="6.4" text-anchor="middle" fill="#222">Invasion</text>
<text x="107.6" y="711.1" font-size="6" font-weight="bold" text-anchor="middle" fill="#111">786-PLOD2-KO</text>
<text x="86.9" y="715.8" font-size="5.3" font-weight="bold" text-anchor="middle" fill="#111">Normoxia</text>
<text x="133.7" y="715.8" font-size="5.2" font-weight="bold" text-anchor="middle" fill="#111">Hypoxia</text>
<rect x="62.2" y="719.7" width="43.5" height="32.8" fill="#dcdcf0"/>
<rect x="62.2" y="719.7" width="43.5" height="32.8" fill="#fff" filter="url(#m8)"/>
<rect x="62.2" y="719.7" width="43.5" height="32.8" fill="none" stroke="#777" stroke-width="0.8"/>
<rect x="107.9" y="719.7" width="43.1" height="32.8" fill="#e0e0f2"/>
<rect x="107.9" y="719.7" width="43.1" height="32.8" fill="#fff" filter="url(#m9)"/>
<rect x="107.9" y="719.7" width="43.1" height="32.8" fill="none" stroke="#777" stroke-width="0.8"/>
<text transform="translate(60.4 732.5) rotate(-90)" font-size="6.4" text-anchor="middle" fill="#222">Invasion</text>
<text x="439" y="567" font-size="6.7" font-weight="bold" text-anchor="middle" fill="#111">OS-RC-2</text>
<text x="420" y="571.9" font-size="5.3" font-weight="bold" text-anchor="middle" fill="#111">Normoxia</text>
<text x="464" y="571.9" font-size="5.2" font-weight="bold" text-anchor="middle" fill="#111">Hypoxia</text>
<rect x="398.2" y="574.4" width="43.4" height="32.8" fill="#e6e8f2"/>
<rect x="398.2" y="574.4" width="43.4" height="32.8" fill="#fff" filter="url(#m10)"/>
<rect x="398.2" y="574.4" width="43.4" height="32.8" fill="none" stroke="#777" stroke-width="0.8"/>
<rect x="444.4" y="574.4" width="43.4" height="32.8" fill="#dcdef0"/>
<rect x="444.4" y="574.4" width="43.4" height="32.8" fill="#fff" filter="url(#m11)"/>
<rect x="444.4" y="574.4" width="43.4" height="32.8" fill="none" stroke="#777" stroke-width="0.8"/>
<text transform="translate(393.6 591.4) rotate(-90)" font-size="6.4" text-anchor="middle" fill="#222">Migration</text>
<text x="445.8" y="612.2" font-size="6.1" font-weight="bold" text-anchor="middle" fill="#111">OS-PLOD2-KO</text>
<text x="420.8" y="616.8" font-size="5.3" font-weight="bold" text-anchor="middle" fill="#111">Normoxia</text>
<text x="467.9" y="616.8" font-size="5.2" font-weight="bold" text-anchor="middle" fill="#111">Hypoxia</text>
<rect x="398.2" y="618.3" width="43.4" height="32.9" fill="#f7f8fb"/>
<rect x="398.2" y="618.3" width="43.4" height="32.9" fill="#fff" filter="url(#m12)"/>
<rect x="398.2" y="618.3" width="43.4" height="32.9" fill="none" stroke="#777" stroke-width="0.8"/>
<rect x="444.4" y="618.3" width="43.4" height="32.9" fill="#f4f5fa"/>
<rect x="444.4" y="618.3" width="43.4" height="32.9" fill="#fff" filter="url(#m13)"/>
<rect x="444.4" y="618.3" width="43.4" height="32.9" fill="none" stroke="#777" stroke-width="0.8"/>
<text transform="translate(393.6 634) rotate(-90)" font-size="6.4" text-anchor="middle" fill="#222">Migration</text>
<text x="440.9" y="661.2" font-size="6.7" font-weight="bold" text-anchor="middle" fill="#111">OS-RC-2</text>
<text x="421" y="665.8" font-size="5.3" font-weight="bold" text-anchor="middle" fill="#111">Normoxia</text>
<text x="464.5" y="665.8" font-size="5.2" font-weight="bold" text-anchor="middle" fill="#111">Hypoxia</text>
<rect x="398.2" y="667.6" width="43.4" height="32.8" fill="#dcdcf0"/>
<rect x="398.2" y="667.6" width="43.4" height="32.8" fill="#fff" filter="url(#m14)"/>
<rect x="398.2" y="667.6" width="43.4" height="32.8" fill="none" stroke="#777" stroke-width="0.8"/>
<rect x="444.4" y="667.6" width="43.4" height="32.8" fill="#eee6f2"/>
<rect x="444.4" y="667.6" width="43.4" height="32.8" fill="#fff" filter="url(#m15)"/>
<rect x="444.4" y="667.6" width="43.4" height="32.8" fill="none" stroke="#777" stroke-width="0.8"/>
<text transform="translate(393.6 684.1) rotate(-90)" font-size="6.4" text-anchor="middle" fill="#222">Invasion</text>
<text x="447.1" y="707.4" font-size="6.1" font-weight="bold" text-anchor="middle" fill="#111">OS-PLOD2-KO</text>
<text x="421" y="712.1" font-size="5.3" font-weight="bold" text-anchor="middle" fill="#111">Normoxia</text>
<text x="467" y="712.1" font-size="5.2" font-weight="bold" text-anchor="middle" fill="#111">Hypoxia</text>
<rect x="398.2" y="713.9" width="43.4" height="32.7" fill="#f2f2f8"/>
<rect x="398.2" y="713.9" width="43.4" height="32.7" fill="#fff" filter="url(#m16)"/>
<rect x="398.2" y="713.9" width="43.4" height="32.7" fill="none" stroke="#777" stroke-width="0.8"/>
<rect x="444.4" y="713.9" width="43.4" height="32.7" fill="#f2eff7"/>
<rect x="444.4" y="713.9" width="43.4" height="32.7" fill="#fff" filter="url(#m17)"/>
<rect x="444.4" y="713.9" width="43.4" height="32.7" fill="none" stroke="#777" stroke-width="0.8"/>
<text transform="translate(393.6 731.7) rotate(-90)" font-size="6.4" text-anchor="middle" fill="#222">Invasion</text>
<text x="267" y="579.8" font-size="13" font-weight="bold" text-anchor="middle">786-O</text>
<circle cx="225.1" cy="590" r="2.6" fill="#d2232f"/>
<text x="232.4" y="592.38" font-size="6.6" fill="#222">PLOD2-KO (-) Hypoxia (-)</text>
<rect x="222.5" y="597.9" width="5.2" height="5.2" fill="#111111"/>
<text x="232.4" y="602.88" font-size="6.6" fill="#222">PLOD2-KO (-) Hypoxia (+)</text>
<path d="M225.1 608.94L227.96 613.88L222.24 613.88Z" fill="#3f62a0"/>
<text x="232.4" y="614.28" font-size="6.6" fill="#222">PLOD2-KO (+) Hypoxia (-)</text>
<path d="M225.1 627.16L227.96 622.22L222.24 622.22Z" fill="#f0a838"/>
<text x="232.4" y="626.58" font-size="6.6" fill="#222">PLOD2-KO (+) Hypoxia (+)</text>
<line x1="204.6" y1="628" x2="204.6" y2="734" stroke="#333" stroke-width="1"/>
<line x1="202.1" y1="734" x2="204.6" y2="734" stroke="#333" stroke-width="1"/>
<text x="200.6" y="736.88" font-size="8" font-weight="bold" text-anchor="end">0</text>
<line x1="202.1" y1="698.63" x2="204.6" y2="698.63" stroke="#333" stroke-width="1"/>
<text x="200.6" y="701.51" font-size="8" font-weight="bold" text-anchor="end">100</text>
<line x1="202.1" y1="663.26" x2="204.6" y2="663.26" stroke="#333" stroke-width="1"/>
<text x="200.6" y="666.14" font-size="8" font-weight="bold" text-anchor="end">200</text>
<line x1="202.1" y1="627.89" x2="204.6" y2="627.89" stroke="#333" stroke-width="1"/>
<text x="200.6" y="630.77" font-size="8" font-weight="bold" text-anchor="end">300</text>
<text transform="translate(183.6 678.4) rotate(-90)" font-size="9.3" font-weight="bold" text-anchor="middle">Cell Counted / field</text>
<line x1="204.6" y1="734" x2="353" y2="734" stroke="#333" stroke-width="1"/>
<line x1="242.9" y1="734" x2="242.9" y2="736.5" stroke="#333" stroke-width="1"/>
<line x1="313.5" y1="734" x2="313.5" y2="736.5" stroke="#333" stroke-width="1"/>
<path d="M215.35 734V684.22H227.55V734" fill="#fff" stroke="#e0555e" stroke-width="0.9"/>
<line x1="221.45" y1="683.77" x2="221.45" y2="677.41" stroke="#d2232f" stroke-width="0.9"/>
<line x1="219.25" y1="677.41" x2="223.65" y2="677.41" stroke="#d2232f" stroke-width="0.9"/>
<circle cx="219.35" cy="679.18" r="2.5" fill="#d2232f"/>
<circle cx="221.45" cy="684.48" r="2.5" fill="#d2232f"/>
<circle cx="223.55" cy="691.56" r="2.5" fill="#d2232f"/>
<path d="M229.45 734V649.56H241.65V734" fill="#fff" stroke="#333" stroke-width="0.9"/>
<line x1="235.55" y1="649.11" x2="235.55" y2="643.81" stroke="#111111" stroke-width="0.9"/>
<line x1="233.35" y1="643.81" x2="237.75" y2="643.81" stroke="#111111" stroke-width="0.9"/>
<rect x="230.95" y="642.37" width="5" height="5" fill="#111111"/>
<rect x="233.05" y="644.84" width="5" height="5" fill="#111111"/>
<rect x="235.15" y="648.03" width="5" height="5" fill="#111111"/>
<path d="M243.55 734V703.32H255.75V734" fill="#fff" stroke="#6582b2" stroke-width="0.9"/>
<line x1="249.65" y1="702.87" x2="249.65" y2="699.34" stroke="#3f62a0" stroke-width="0.9"/>
<line x1="247.45" y1="699.34" x2="251.85" y2="699.34" stroke="#3f62a0" stroke-width="0.9"/>
<path d="M247.55 696.84L250.3 701.59L244.8 701.59Z" fill="#3f62a0"/>
<path d="M249.65 701.09L252.4 705.84L246.9 705.84Z" fill="#3f62a0"/>
<path d="M251.75 703.56L254.5 708.31L249 708.31Z" fill="#3f62a0"/>
<path d="M257.65 734V700.14H269.85V734" fill="#fff" stroke="#f2b860" stroke-width="0.9"/>
<path d="M261.65 701.83L264.4 697.08L258.9 697.08Z" fill="#f0a838"/>
<path d="M263.75 702.54L266.5 697.79L261 697.79Z" fill="#f0a838"/>
<path d="M265.85 705.72L268.6 700.97L263.1 700.97Z" fill="#f0a838"/>
<path d="M285.95 734V691.3H298.15V734" fill="#fff" stroke="#e0555e" stroke-width="0.9"/>
<line x1="292.05" y1="690.85" x2="292.05" y2="686.96" stroke="#d2232f" stroke-width="0.9"/>
<line x1="289.85" y1="686.96" x2="294.25" y2="686.96" stroke="#d2232f" stroke-width="0.9"/>
<circle cx="289.95" cy="686.96" r="2.5" fill="#d2232f"/>
<circle cx="292.05" cy="691.56" r="2.5" fill="#d2232f"/>
<circle cx="294.15" cy="693.32" r="2.5" fill="#d2232f"/>
<path d="M300.05 734V663.71H312.25V734" fill="#fff" stroke="#333" stroke-width="0.9"/>
<rect x="301.55" y="659.7" width="5" height="5" fill="#111111"/>
<rect x="303.65" y="660.76" width="5" height="5" fill="#111111"/>
<rect x="305.75" y="661.47" width="5" height="5" fill="#111111"/>
<path d="M314.15 734V707.22H326.35V734" fill="#fff" stroke="#6582b2" stroke-width="0.9"/>
<line x1="320.25" y1="706.77" x2="320.25" y2="703.94" stroke="#3f62a0" stroke-width="0.9"/>
<line x1="318.05" y1="703.94" x2="322.45" y2="703.94" stroke="#3f62a0" stroke-width="0.9"/>
<path d="M318.15 701.09L320.9 705.84L315.4 705.84Z" fill="#3f62a0"/>
<path d="M320.25 703.92L323 708.67L317.5 708.67Z" fill="#3f62a0"/>
<path d="M322.35 706.39L325.1 711.14L319.6 711.14Z" fill="#3f62a0"/>
<path d="M328.25 734V705.09H340.45V734" fill="#fff" stroke="#f2b860" stroke-width="0.9"/>
<line x1="334.35" y1="704.64" x2="334.35" y2="701.46" stroke="#f0a838" stroke-width="0.9"/>
<line x1="332.15" y1="701.46" x2="336.55" y2="701.46" stroke="#f0a838" stroke-width="0.9"/>
<path d="M332.25 705.02L335 700.27L329.5 700.27Z" fill="#f0a838"/>
<path d="M334.35 707.85L337.1 703.1L331.6 703.1Z" fill="#f0a838"/>
<path d="M336.45 708.55L339.2 703.8L333.7 703.8Z" fill="#f0a838"/>
<line x1="215.7" y1="635.3" x2="249.9" y2="635.3" stroke="#333" stroke-width="0.8"/>
<text x="232.8" y="635.7" font-size="8" font-weight="bold" text-anchor="middle" fill="#222">*</text>
<line x1="218.4" y1="641.7" x2="234.4" y2="641.7" stroke="#333" stroke-width="0.8"/>
<text x="226.4" y="642.1" font-size="8" font-weight="bold" text-anchor="middle" fill="#222">**</text>
<line x1="248.4" y1="692.8" x2="265.4" y2="692.8" stroke="#333" stroke-width="0.8"/>
<text x="256.9" y="691" font-size="7.2" text-anchor="middle" fill="#333">ns</text>
<line x1="292.2" y1="638.8" x2="328.7" y2="638.8" stroke="#333" stroke-width="0.8"/>
<text x="310.45" y="639.2" font-size="8" font-weight="bold" text-anchor="middle" fill="#222">**</text>
<line x1="289.3" y1="655.7" x2="306.2" y2="655.7" stroke="#333" stroke-width="0.8"/>
<text x="297.75" y="656.1" font-size="8" font-weight="bold" text-anchor="middle" fill="#222">***</text>
<line x1="322.9" y1="691.6" x2="339.8" y2="691.6" stroke="#333" stroke-width="0.8"/>
<text x="331.35" y="689.8" font-size="7.2" text-anchor="middle" fill="#333">ns</text>
<text x="238.2" y="746.8" font-size="8.6" font-weight="bold" text-anchor="middle">Migration</text>
<text x="309.7" y="746.8" font-size="8.6" font-weight="bold" text-anchor="middle">Invasion</text>
<text x="602.8" y="580.3" font-size="13.5" font-weight="bold" text-anchor="middle">OS-RC-2</text>
<circle cx="559.5" cy="591.1" r="2.6" fill="#d2232f"/>
<text x="566.8" y="593.48" font-size="6.6" fill="#222">PLOD2-KO (-) Hypoxia (-)</text>
<rect x="556.9" y="599.3" width="5.2" height="5.2" fill="#111111"/>
<text x="566.8" y="604.28" font-size="6.6" fill="#222">PLOD2-KO (-) Hypoxia (+)</text>
<path d="M559.5 610.64L562.36 615.58L556.64 615.58Z" fill="#3f62a0"/>
<text x="566.8" y="615.98" font-size="6.6" fill="#222">PLOD2-KO (+) Hypoxia (-)</text>
<path d="M559.5 628.26L562.36 623.32L556.64 623.32Z" fill="#f0a838"/>
<text x="566.8" y="627.68" font-size="6.6" fill="#222">PLOD2-KO (+) Hypoxia (+)</text>
<line x1="528.8" y1="622.3" x2="528.8" y2="734.2" stroke="#333" stroke-width="1"/>
<line x1="526.3" y1="734.2" x2="528.8" y2="734.2" stroke="#333" stroke-width="1"/>
<text x="524.8" y="737.08" font-size="8" font-weight="bold" text-anchor="end">0</text>
<line x1="526.3" y1="706.22" x2="528.8" y2="706.22" stroke="#333" stroke-width="1"/>
<text x="524.8" y="709.1" font-size="8" font-weight="bold" text-anchor="end">100</text>
<line x1="526.3" y1="678.24" x2="528.8" y2="678.24" stroke="#333" stroke-width="1"/>
<text x="524.8" y="681.12" font-size="8" font-weight="bold" text-anchor="end">200</text>
<line x1="526.3" y1="650.26" x2="528.8" y2="650.26" stroke="#333" stroke-width="1"/>
<text x="524.8" y="653.14" font-size="8" font-weight="bold" text-anchor="end">300</text>
<line x1="526.3" y1="622.28" x2="528.8" y2="622.28" stroke="#333" stroke-width="1"/>
<text x="524.8" y="625.16" font-size="8" font-weight="bold" text-anchor="end">400</text>
<text transform="translate(505 679.6) rotate(-90)" font-size="9.3" font-weight="bold" text-anchor="middle">Cell Counted / field</text>
<line x1="528.8" y1="734.2" x2="685" y2="734.2" stroke="#333" stroke-width="1"/>
<line x1="568.9" y1="734.2" x2="568.9" y2="736.7" stroke="#333" stroke-width="1"/>
<line x1="644" y1="734.2" x2="644" y2="736.7" stroke="#333" stroke-width="1"/>
<path d="M539.45 734.2V682.89H552.55V734.2" fill="#fff" stroke="#e0555e" stroke-width="0.9"/>
<line x1="546" y1="682.44" x2="546" y2="678.24" stroke="#d2232f" stroke-width="0.9"/>
<line x1="543.8" y1="678.24" x2="548.2" y2="678.24" stroke="#d2232f" stroke-width="0.9"/>
<circle cx="543.76" cy="678.24" r="2.5" fill="#d2232f"/>
<circle cx="546" cy="682.44" r="2.5" fill="#d2232f"/>
<circle cx="548.24" cy="686.63" r="2.5" fill="#d2232f"/>
<path d="M554.75 734.2V660.5H567.85V734.2" fill="#fff" stroke="#333" stroke-width="0.9"/>
<line x1="561.3" y1="660.05" x2="561.3" y2="651.66" stroke="#111111" stroke-width="0.9"/>
<line x1="559.1" y1="651.66" x2="563.5" y2="651.66" stroke="#111111" stroke-width="0.9"/>
<rect x="556.56" y="650.56" width="5" height="5" fill="#111111"/>
<rect x="558.8" y="651.96" width="5" height="5" fill="#111111"/>
<rect x="561.04" y="665.95" width="5" height="5" fill="#111111"/>
<path d="M570.05 734.2V706.67H583.15V734.2" fill="#fff" stroke="#6582b2" stroke-width="0.9"/>
<line x1="576.6" y1="706.22" x2="576.6" y2="701.18" stroke="#3f62a0" stroke-width="0.9"/>
<line x1="574.4" y1="701.18" x2="578.8" y2="701.18" stroke="#3f62a0" stroke-width="0.9"/>
<path d="M574.36 699.17L577.11 703.92L571.61 703.92Z" fill="#3f62a0"/>
<path d="M576.6 703.37L579.35 708.12L573.85 708.12Z" fill="#3f62a0"/>
<path d="M578.84 707.57L581.59 712.32L576.09 712.32Z" fill="#3f62a0"/>
<path d="M585.35 734.2V705.27H598.45V734.2" fill="#fff" stroke="#f2b860" stroke-width="0.9"/>
<line x1="591.9" y1="704.82" x2="591.9" y2="702.86" stroke="#f0a838" stroke-width="0.9"/>
<line x1="589.7" y1="702.86" x2="594.1" y2="702.86" stroke="#f0a838" stroke-width="0.9"/>
<path d="M589.66 706.27L592.41 701.52L586.91 701.52Z" fill="#f0a838"/>
<path d="M591.9 709.07L594.65 704.32L589.15 704.32Z" fill="#f0a838"/>
<path d="M594.14 709.07L596.89 704.32L591.39 704.32Z" fill="#f0a838"/>
<path d="M614.45 734.2V687.08H627.55V734.2" fill="#fff" stroke="#e0555e" stroke-width="0.9"/>
<line x1="621" y1="686.63" x2="621" y2="680.48" stroke="#d2232f" stroke-width="0.9"/>
<line x1="618.8" y1="680.48" x2="623.2" y2="680.48" stroke="#d2232f" stroke-width="0.9"/>
<circle cx="618.76" cy="681.04" r="2.5" fill="#d2232f"/>
<circle cx="621" cy="685.24" r="2.5" fill="#d2232f"/>
<circle cx="623.24" cy="695.03" r="2.5" fill="#d2232f"/>
<path d="M629.75 734.2V663.86H642.85V734.2" fill="#fff" stroke="#333" stroke-width="0.9"/>
<line x1="636.3" y1="663.41" x2="636.3" y2="656.42" stroke="#111111" stroke-width="0.9"/>
<line x1="634.1" y1="656.42" x2="638.5" y2="656.42" stroke="#111111" stroke-width="0.9"/>
<rect x="631.56" y="654.76" width="5" height="5" fill="#111111"/>
<rect x="633.8" y="661.75" width="5" height="5" fill="#111111"/>
<rect x="636.04" y="664.55" width="5" height="5" fill="#111111"/>
<path d="M645.05 734.2V705.27H658.15V734.2" fill="#fff" stroke="#6582b2" stroke-width="0.9"/>
<path d="M649.36 700.57L652.11 705.32L646.61 705.32Z" fill="#3f62a0"/>
<path d="M651.6 703.37L654.35 708.12L648.85 708.12Z" fill="#3f62a0"/>
<path d="M653.84 701.97L656.59 706.72L651.09 706.72Z" fill="#3f62a0"/>
<path d="M660.35 734.2V705.83H673.45V734.2" fill="#fff" stroke="#f2b860" stroke-width="0.9"/>
<path d="M664.66 706.83L667.41 702.08L661.91 702.08Z" fill="#f0a838"/>
<path d="M666.9 709.07L669.65 704.32L664.15 704.32Z" fill="#f0a838"/>
<path d="M669.14 709.63L671.89 704.88L666.39 704.88Z" fill="#f0a838"/>
<line x1="539" y1="640.1" x2="578.4" y2="640.1" stroke="#333" stroke-width="0.8"/>
<text x="558.7" y="640.5" font-size="8" font-weight="bold" text-anchor="middle" fill="#222">**</text>
<line x1="541.1" y1="647.2" x2="559.5" y2="647.2" stroke="#333" stroke-width="0.8"/>
<text x="550.3" y="647.6" font-size="8" font-weight="bold" text-anchor="middle" fill="#222">*</text>
<line x1="574" y1="697.1" x2="591.6" y2="697.1" stroke="#333" stroke-width="0.8"/>
<text x="582.8" y="695.3" font-size="7.2" text-anchor="middle" fill="#333">ns</text>
<line x1="617" y1="639.9" x2="655.8" y2="639.9" stroke="#888" stroke-width="0.8"/>
<text x="636.4" y="640.3" font-size="8" font-weight="bold" text-anchor="middle" fill="#222">**</text>
<line x1="619.9" y1="648.6" x2="637.4" y2="648.6" stroke="#333" stroke-width="0.8"/>
<text x="628.65" y="649" font-size="8" font-weight="bold" text-anchor="middle" fill="#222">**</text>
<line x1="651.4" y1="697.7" x2="669" y2="697.7" stroke="#333" stroke-width="0.8"/>
<text x="660.2" y="695.9" font-size="7.2" text-anchor="middle" fill="#333">ns</text>
<text x="567.6" y="745.6" font-size="8.6" font-weight="bold" text-anchor="middle">Migration</text>
<text x="643.5" y="745.6" font-size="8.6" font-weight="bold" text-anchor="middle">Invasion</text>
<text x="20.2" y="782.5" font-size="13.6" font-weight="bold" fill="#231815">H</text>
<text x="111.2" y="779.9" font-size="13.2" font-weight="bold" text-anchor="middle">786-O</text>
<circle cx="74.1" cy="788.1" r="2.3" fill="#d2232f"/>
<text x="81.8" y="790.48" font-size="6.6" fill="#222">PLOD2-KO (-) Hypoxia (-)</text>
<rect x="71.8" y="796.8" width="4.6" height="4.6" fill="#111111"/>
<text x="81.8" y="801.48" font-size="6.6" fill="#222">PLOD2-KO (-) Hypoxia (+)</text>
<path d="M74.1 807.98L76.63 812.35L71.57 812.35Z" fill="#3f62a0"/>
<text x="81.8" y="812.98" font-size="6.6" fill="#222">PLOD2-KO (+) Hypoxia (-)</text>
<path d="M74.1 824.72L76.63 820.35L71.57 820.35Z" fill="#f0a838"/>
<text x="81.8" y="824.48" font-size="6.6" fill="#222">PLOD2-KO (+) Hypoxia (+)</text>
<line x1="52.4" y1="823.9" x2="52.4" y2="932" stroke="#333" stroke-width="1"/>
<line x1="49.9" y1="932" x2="52.4" y2="932" stroke="#333" stroke-width="1"/>
<text x="48.4" y="935.02" font-size="8.4" font-weight="bold" text-anchor="end">0</text>
<line x1="49.9" y1="905" x2="52.4" y2="905" stroke="#333" stroke-width="1"/>
<text x="48.4" y="908.02" font-size="8.4" font-weight="bold" text-anchor="end">1</text>
<line x1="49.9" y1="878" x2="52.4" y2="878" stroke="#333" stroke-width="1"/>
<text x="48.4" y="881.02" font-size="8.4" font-weight="bold" text-anchor="end">2</text>
<line x1="49.9" y1="851" x2="52.4" y2="851" stroke="#333" stroke-width="1"/>
<text x="48.4" y="854.02" font-size="8.4" font-weight="bold" text-anchor="end">3</text>
<line x1="49.9" y1="824" x2="52.4" y2="824" stroke="#333" stroke-width="1"/>
<text x="48.4" y="827.02" font-size="8.4" font-weight="bold" text-anchor="end">4</text>
<text transform="translate(38.6 878.2) rotate(-90)" font-size="9.2" font-weight="bold" text-anchor="middle">Relative mRNA expression</text>
<line x1="52.4" y1="932" x2="183" y2="932" stroke="#333" stroke-width="1"/>
<line x1="75" y1="932" x2="75" y2="934.5" stroke="#333" stroke-width="1"/>
<line x1="117.1" y1="932" x2="117.1" y2="934.5" stroke="#333" stroke-width="1"/>
<line x1="159.8" y1="932" x2="159.8" y2="934.5" stroke="#333" stroke-width="1"/>
<path d="M58.75 932V905.45H65.45V932" fill="#fff" stroke="#e0555e" stroke-width="0.9"/>
<circle cx="60.58" cy="904.46" r="2" fill="#d2232f"/>
<circle cx="62.1" cy="905.54" r="2" fill="#d2232f"/>
<circle cx="63.62" cy="905" r="2" fill="#d2232f"/>
<path d="M67.35 932V849.29H74.05V932" fill="#fff" stroke="#333" stroke-width="0.9"/>
<rect x="67.18" y="844.95" width="4" height="4" fill="#111111"/>
<rect x="68.7" y="846.84" width="4" height="4" fill="#111111"/>
<rect x="70.22" y="848.46" width="4" height="4" fill="#111111"/>
<path d="M75.95 932V916.25H82.65V932" fill="#fff" stroke="#6582b2" stroke-width="0.9"/>
<path d="M77.78 912.98L79.98 916.78L75.58 916.78Z" fill="#3f62a0"/>
<path d="M79.3 913.52L81.5 917.32L77.1 917.32Z" fill="#3f62a0"/>
<path d="M80.82 914.06L83.02 917.86L78.62 917.86Z" fill="#3f62a0"/>
<path d="M84.55 932V912.74H91.25V932" fill="#fff" stroke="#f2b860" stroke-width="0.9"/>
<path d="M86.38 914.03L88.58 910.23L84.18 910.23Z" fill="#f0a838"/>
<path d="M87.9 914.57L90.1 910.77L85.7 910.77Z" fill="#f0a838"/>
<path d="M89.42 915.11L91.62 911.31L87.22 911.31Z" fill="#f0a838"/>
<path d="M100.85 932V905.45H107.55V932" fill="#fff" stroke="#e0555e" stroke-width="0.9"/>
<line x1="104.2" y1="905" x2="104.2" y2="900.41" stroke="#d2232f" stroke-width="0.9"/>
<line x1="102" y1="900.41" x2="106.4" y2="900.41" stroke="#d2232f" stroke-width="0.9"/>
<circle cx="102.68" cy="900.95" r="2" fill="#d2232f"/>
<circle cx="104.2" cy="905" r="2" fill="#d2232f"/>
<circle cx="105.72" cy="910.4" r="2" fill="#d2232f"/>
<path d="M109.45 932V859.01H116.15V932" fill="#fff" stroke="#333" stroke-width="0.9"/>
<line x1="112.8" y1="858.56" x2="112.8" y2="853.7" stroke="#111111" stroke-width="0.9"/>
<line x1="110.6" y1="853.7" x2="115" y2="853.7" stroke="#111111" stroke-width="0.9"/>
<rect x="109.28" y="852.24" width="4" height="4" fill="#111111"/>
<rect x="110.8" y="855.75" width="4" height="4" fill="#111111"/>
<rect x="112.32" y="862.5" width="4" height="4" fill="#111111"/>
<path d="M118.05 932V918.95H124.75V932" fill="#fff" stroke="#6582b2" stroke-width="0.9"/>
<path d="M119.88 915.68L122.08 919.48L117.68 919.48Z" fill="#3f62a0"/>
<path d="M121.4 916.22L123.6 920.02L119.2 920.02Z" fill="#3f62a0"/>
<path d="M122.92 916.76L125.12 920.56L120.72 920.56Z" fill="#3f62a0"/>
<path d="M126.65 932V913.55H133.35V932" fill="#fff" stroke="#f2b860" stroke-width="0.9"/>
<line x1="130" y1="913.1" x2="130" y2="905" stroke="#f0a838" stroke-width="0.9"/>
<line x1="127.8" y1="905" x2="132.2" y2="905" stroke="#f0a838" stroke-width="0.9"/>
<path d="M128.48 908.63L130.68 904.83L126.28 904.83Z" fill="#f0a838"/>
<path d="M130 918.08L132.2 914.28L127.8 914.28Z" fill="#f0a838"/>
<path d="M131.52 919.43L133.72 915.63L129.32 915.63Z" fill="#f0a838"/>
<path d="M143.55 932V905.45H150.25V932" fill="#fff" stroke="#e0555e" stroke-width="0.9"/>
<line x1="146.9" y1="905" x2="146.9" y2="900.41" stroke="#d2232f" stroke-width="0.9"/>
<line x1="144.7" y1="900.41" x2="149.1" y2="900.41" stroke="#d2232f" stroke-width="0.9"/>
<circle cx="145.38" cy="900.95" r="2" fill="#d2232f"/>
<circle cx="146.9" cy="905" r="2" fill="#d2232f"/>
<circle cx="148.42" cy="909.05" r="2" fill="#d2232f"/>
<path d="M152.15 932V886.01H158.85V932" fill="#fff" stroke="#333" stroke-width="0.9"/>
<line x1="155.5" y1="885.56" x2="155.5" y2="882.05" stroke="#111111" stroke-width="0.9"/>
<line x1="153.3" y1="882.05" x2="157.7" y2="882.05" stroke="#111111" stroke-width="0.9"/>
<rect x="151.98" y="878.7" width="4" height="4" fill="#111111"/>
<rect x="153.5" y="882.75" width="4" height="4" fill="#111111"/>
<rect x="155.02" y="886.8" width="4" height="4" fill="#111111"/>
<path d="M160.75 932V924.89H167.45V932" fill="#fff" stroke="#6582b2" stroke-width="0.9"/>
<path d="M162.58 921.62L164.78 925.42L160.38 925.42Z" fill="#3f62a0"/>
<path d="M164.1 922.16L166.3 925.96L161.9 925.96Z" fill="#3f62a0"/>
<path d="M165.62 922.43L167.82 926.23L163.42 926.23Z" fill="#3f62a0"/>
<path d="M169.35 932V923.81H176.05V932" fill="#fff" stroke="#f2b860" stroke-width="0.9"/>
<path d="M171.18 925.1L173.38 921.3L168.98 921.3Z" fill="#f0a838"/>
<path d="M172.7 925.64L174.9 921.84L170.5 921.84Z" fill="#f0a838"/>
<path d="M174.22 926.18L176.42 922.38L172.02 922.38Z" fill="#f0a838"/>
<line x1="59.3" y1="830.3" x2="81.2" y2="830.3" stroke="#333" stroke-width="0.8"/>
<text x="70.25" y="830.7" font-size="6" text-anchor="middle" fill="#222">***</text>
<line x1="57.5" y1="841.2" x2="68.5" y2="841.2" stroke="#333" stroke-width="0.8"/>
<text x="63" y="841.6" font-size="6" text-anchor="middle" fill="#222">****</text>
<line x1="77.2" y1="892.3" x2="89.4" y2="892.3" stroke="#333" stroke-width="0.8"/>
<text x="83.3" y="892.7" font-size="6" text-anchor="middle" fill="#222">**</text>
<line x1="100.9" y1="837.9" x2="123.9" y2="837.9" stroke="#333" stroke-width="0.8"/>
<text x="112.4" y="838.3" font-size="6" text-anchor="middle" fill="#222">*</text>
<line x1="102.2" y1="848.9" x2="115" y2="848.9" stroke="#333" stroke-width="0.8"/>
<text x="108.6" y="849.3" font-size="6" text-anchor="middle" fill="#222">***</text>
<line x1="121.4" y1="892.3" x2="133.4" y2="892.3" stroke="#333" stroke-width="0.8"/>
<text x="127.4" y="890.5" font-size="6" text-anchor="middle" fill="#333">ns</text>
<line x1="145.6" y1="856.6" x2="167.3" y2="856.6" stroke="#333" stroke-width="0.8"/>
<text x="156.45" y="857" font-size="6" text-anchor="middle" fill="#222">**</text>
<line x1="144.4" y1="867.3" x2="156.4" y2="867.3" stroke="#333" stroke-width="0.8"/>
<text x="150.4" y="867.7" font-size="6" text-anchor="middle" fill="#222">**</text>
<line x1="164" y1="905.1" x2="176" y2="905.1" stroke="#333" stroke-width="0.8"/>
<text x="170" y="903.3" font-size="6" text-anchor="middle" fill="#333">ns</text>
<text x="71.5" y="944.2" font-size="8.4" font-weight="bold" text-anchor="middle">CD44</text>
<text x="114.3" y="944.2" font-size="8.4" font-weight="bold" text-anchor="middle">Nanog</text>
<text x="159" y="944.2" font-size="8.4" font-weight="bold" text-anchor="middle">Bmi-1</text>
<text x="270.6" y="779.7" font-size="12.8" font-weight="bold" text-anchor="middle">OS-RC-2</text>
<circle cx="233.8" cy="788.1" r="2.3" fill="#d2232f"/>
<text x="240.7" y="790.48" font-size="6.6" fill="#222">PLOD2-KO (-) Hypoxia (-)</text>
<rect x="231.5" y="797.1" width="4.6" height="4.6" fill="#111111"/>
<text x="240.7" y="801.78" font-size="6.6" fill="#222">PLOD2-KO (-) Hypoxia (+)</text>
<path d="M233.8 807.78L236.33 812.15L231.27 812.15Z" fill="#3f62a0"/>
<text x="240.7" y="812.78" font-size="6.6" fill="#222">PLOD2-KO (+) Hypoxia (-)</text>
<path d="M233.8 825.12L236.33 820.75L231.27 820.75Z" fill="#f0a838"/>
<text x="240.7" y="824.88" font-size="6.6" fill="#222">PLOD2-KO (+) Hypoxia (+)</text>
<line x1="222.8" y1="827.8" x2="222.8" y2="932.1" stroke="#333" stroke-width="1"/>
<line x1="220.3" y1="932.1" x2="222.8" y2="932.1" stroke="#333" stroke-width="1"/>
<text x="218.8" y="935.12" font-size="8.4" font-weight="bold" text-anchor="end">0</text>
<line x1="220.3" y1="897.33" x2="222.8" y2="897.33" stroke="#333" stroke-width="1"/>
<text x="218.8" y="900.35" font-size="8.4" font-weight="bold" text-anchor="end">1</text>
<line x1="220.3" y1="862.56" x2="222.8" y2="862.56" stroke="#333" stroke-width="1"/>
<text x="218.8" y="865.58" font-size="8.4" font-weight="bold" text-anchor="end">2</text>
<line x1="220.3" y1="827.79" x2="222.8" y2="827.79" stroke="#333" stroke-width="1"/>
<text x="218.8" y="830.81" font-size="8.4" font-weight="bold" text-anchor="end">3</text>
<text transform="translate(210 879.5) rotate(-90)" font-size="9" font-weight="bold" text-anchor="middle">Relative mRNA expression</text>
<line x1="222.8" y1="932.1" x2="351.7" y2="932.1" stroke="#333" stroke-width="1"/>
<line x1="245.2" y1="932.1" x2="245.2" y2="934.6" stroke="#333" stroke-width="1"/>
<line x1="287.2" y1="932.1" x2="287.2" y2="934.6" stroke="#333" stroke-width="1"/>
<line x1="328.2" y1="932.1" x2="328.2" y2="934.6" stroke="#333" stroke-width="1"/>
<path d="M229.85 932.1V897.78H236.55V932.1" fill="#fff" stroke="#e0555e" stroke-width="0.9"/>
<circle cx="231.68" cy="895.59" r="2" fill="#d2232f"/>
<circle cx="233.2" cy="898.37" r="2" fill="#d2232f"/>
<circle cx="234.72" cy="900.81" r="2" fill="#d2232f"/>
<path d="M237.85 932.1V867.18H244.55V932.1" fill="#fff" stroke="#333" stroke-width="0.9"/>
<rect x="237.68" y="861.6" width="4" height="4" fill="#111111"/>
<rect x="239.2" y="864.04" width="4" height="4" fill="#111111"/>
<rect x="240.72" y="867.51" width="4" height="4" fill="#111111"/>
<path d="M245.85 932.1V919.34H252.55V932.1" fill="#fff" stroke="#6582b2" stroke-width="0.9"/>
<path d="M247.68 915.22L249.88 919.02L245.48 919.02Z" fill="#3f62a0"/>
<path d="M249.2 915.91L251.4 919.71L247 919.71Z" fill="#3f62a0"/>
<path d="M250.72 916.61L252.92 920.41L248.52 920.41Z" fill="#3f62a0"/>
<path d="M253.85 932.1V921.08H260.55V932.1" fill="#fff" stroke="#f2b860" stroke-width="0.9"/>
<path d="M255.68 921.17L257.88 917.37L253.48 917.37Z" fill="#f0a838"/>
<path d="M257.2 923.95L259.4 920.15L255 920.15Z" fill="#f0a838"/>
<path d="M258.72 923.95L260.92 920.15L256.52 920.15Z" fill="#f0a838"/>
<path d="M271.85 932.1V897.78H278.55V932.1" fill="#fff" stroke="#e0555e" stroke-width="0.9"/>
<circle cx="273.68" cy="895.59" r="2" fill="#d2232f"/>
<circle cx="275.2" cy="897.33" r="2" fill="#d2232f"/>
<circle cx="276.72" cy="899.07" r="2" fill="#d2232f"/>
<path d="M279.85 932.1V882.83H286.55V932.1" fill="#fff" stroke="#333" stroke-width="0.9"/>
<rect x="279.68" y="874.47" width="4" height="4" fill="#111111"/>
<rect x="281.2" y="879.68" width="4" height="4" fill="#111111"/>
<rect x="282.72" y="886.64" width="4" height="4" fill="#111111"/>
<path d="M287.85 932.1V925.6H294.55V932.1" fill="#fff" stroke="#6582b2" stroke-width="0.9"/>
<path d="M289.68 922.52L291.88 926.32L287.48 926.32Z" fill="#3f62a0"/>
<path d="M291.2 922.87L293.4 926.67L289 926.67Z" fill="#3f62a0"/>
<path d="M292.72 923.21L294.92 927.01L290.52 927.01Z" fill="#3f62a0"/>
<path d="M295.85 932.1V925.6H302.55V932.1" fill="#fff" stroke="#f2b860" stroke-width="0.9"/>
<line x1="299.2" y1="925.15" x2="299.2" y2="920.63" stroke="#f0a838" stroke-width="0.9"/>
<line x1="297" y1="920.63" x2="301.4" y2="920.63" stroke="#f0a838" stroke-width="0.9"/>
<path d="M297.68 922.21L299.88 918.41L295.48 918.41Z" fill="#f0a838"/>
<path d="M299.2 928.12L301.4 924.32L297 924.32Z" fill="#f0a838"/>
<path d="M300.72 930.21L302.92 926.41L298.52 926.41Z" fill="#f0a838"/>
<path d="M313.85 932.1V897.78H320.55V932.1" fill="#fff" stroke="#e0555e" stroke-width="0.9"/>
<circle cx="315.68" cy="893.85" r="2" fill="#d2232f"/>
<circle cx="317.2" cy="897.33" r="2" fill="#d2232f"/>
<circle cx="318.72" cy="898.37" r="2" fill="#d2232f"/>
<path d="M321.85 932.1V874.48H328.55V932.1" fill="#fff" stroke="#333" stroke-width="0.9"/>
<line x1="325.2" y1="874.03" x2="325.2" y2="867.78" stroke="#111111" stroke-width="0.9"/>
<line x1="323" y1="867.78" x2="327.4" y2="867.78" stroke="#111111" stroke-width="0.9"/>
<rect x="321.68" y="862.99" width="4" height="4" fill="#111111"/>
<rect x="323.2" y="870.99" width="4" height="4" fill="#111111"/>
<rect x="324.72" y="881.42" width="4" height="4" fill="#111111"/>
<path d="M329.85 932.1V925.6H336.55V932.1" fill="#fff" stroke="#6582b2" stroke-width="0.9"/>
<path d="M331.68 921.13L333.88 924.93L329.48 924.93Z" fill="#3f62a0"/>
<path d="M333.2 922.87L335.4 926.67L331 926.67Z" fill="#3f62a0"/>
<path d="M334.72 923.56L336.92 927.36L332.52 927.36Z" fill="#3f62a0"/>
<path d="M337.85 932.1V926.29H344.55V932.1" fill="#fff" stroke="#f2b860" stroke-width="0.9"/>
<path d="M339.68 927.43L341.88 923.63L337.48 923.63Z" fill="#f0a838"/>
<path d="M341.2 928.12L343.4 924.32L339 924.32Z" fill="#f0a838"/>
<path d="M342.72 928.82L344.92 925.02L340.52 925.02Z" fill="#f0a838"/>
<line x1="228.1" y1="841.4" x2="251.7" y2="841.4" stroke="#333" stroke-width="0.8"/>
<text x="239.9" y="841.8" font-size="6" text-anchor="middle" fill="#222">***</text>
<line x1="230.2" y1="853.3" x2="241.7" y2="853.3" stroke="#333" stroke-width="0.8"/>
<text x="235.95" y="853.7" font-size="6" text-anchor="middle" fill="#222">***</text>
<line x1="248.6" y1="907.1" x2="260.9" y2="907.1" stroke="#333" stroke-width="0.8"/>
<text x="254.75" y="905.3" font-size="6" text-anchor="middle" fill="#333">ns</text>
<line x1="269.6" y1="856.4" x2="293" y2="856.4" stroke="#333" stroke-width="0.8"/>
<text x="281.3" y="856.8" font-size="6" text-anchor="middle" fill="#222">****</text>
<line x1="271.4" y1="869" x2="283.8" y2="869" stroke="#333" stroke-width="0.8"/>
<text x="277.6" y="869.4" font-size="6" text-anchor="middle" fill="#222">*</text>
<line x1="290.6" y1="910.3" x2="302.2" y2="910.3" stroke="#333" stroke-width="0.8"/>
<text x="296.4" y="908.5" font-size="6" text-anchor="middle" fill="#333">ns</text>
<line x1="312.9" y1="845.4" x2="336.3" y2="845.4" stroke="#333" stroke-width="0.8"/>
<text x="324.6" y="845.8" font-size="6" text-anchor="middle" fill="#222">***</text>
<line x1="314.2" y1="856.7" x2="326.6" y2="856.7" stroke="#333" stroke-width="0.8"/>
<text x="320.4" y="857.1" font-size="6" text-anchor="middle" fill="#222">*</text>
<line x1="334.5" y1="910.3" x2="345" y2="910.3" stroke="#333" stroke-width="0.8"/>
<text x="339.75" y="908.5" font-size="6" text-anchor="middle" fill="#333">ns</text>
<text x="245.9" y="944.4" font-size="8.4" font-weight="bold" text-anchor="middle">CD44</text>
<text x="286.4" y="944.4" font-size="8.4" font-weight="bold" text-anchor="middle">Nanog</text>
<text x="330.2" y="944.4" font-size="8.4" font-weight="bold" text-anchor="middle">Bmi-1</text>
<text x="362.6" y="769.8" font-size="13.6" font-weight="bold" fill="#231815">I</text>
<text x="447.5" y="782.8" font-size="14.6" font-weight="bold" text-anchor="middle">786-O</text>
<text x="370.6" y="799.8" font-size="7.2" fill="#111" letter-spacing="0.1">PLOD2-KO</text>
<text x="372.5" y="811.4" font-size="7.2" fill="#111" letter-spacing="0.5">Hypoxia</text>
<line x1="418.4" y1="795.5" x2="421.6" y2="795.5" stroke="#111" stroke-width="1.3"/>
<line x1="418.4" y1="810.9" x2="421.6" y2="810.9" stroke="#111" stroke-width="1.3"/>
<line x1="437.2" y1="795.5" x2="440.4" y2="795.5" stroke="#111" stroke-width="1.3"/>
<line x1="436.6" y1="810.9" x2="441" y2="810.9" stroke="#111" stroke-width="1.3"/>
<line x1="438.8" y1="808.7" x2="438.8" y2="813.1" stroke="#111" stroke-width="1.3"/>
<line x1="454.5" y1="795.5" x2="458.9" y2="795.5" stroke="#111" stroke-width="1.3"/>
<line x1="456.7" y1="793.3" x2="456.7" y2="797.7" stroke="#111" stroke-width="1.3"/>
<line x1="455.1" y1="810.9" x2="458.3" y2="810.9" stroke="#111" stroke-width="1.3"/>
<line x1="468.6" y1="795.5" x2="473" y2="795.5" stroke="#111" stroke-width="1.3"/>
<line x1="470.8" y1="793.3" x2="470.8" y2="797.7" stroke="#111" stroke-width="1.3"/>
<line x1="468.6" y1="810.9" x2="473" y2="810.9" stroke="#111" stroke-width="1.3"/>
<line x1="470.8" y1="808.7" x2="470.8" y2="813.1" stroke="#111" stroke-width="1.3"/>
<rect x="414.5" y="816.6" width="64.5" height="17.9" fill="#e6e6ea"/>
<rect x="418.2" y="821.9" width="12.4" height="5.4" rx="2.7" fill="#111" filter="url(#b1_00)"/>
<rect x="431.9" y="821.4" width="14.4" height="6" rx="3" fill="#000" filter="url(#b1_00)"/>
<rect x="448" y="824" width="12.4" height="4" rx="2" fill="#b8b8bc" filter="url(#b1_40)"/>
<rect x="464" y="824.5" width="11" height="4" rx="2" fill="#c4c4c8" filter="url(#b1_40)"/>
<rect x="414.5" y="816.6" width="64.5" height="17.9" fill="none" stroke="#787878" stroke-width="0.9"/>
<text x="412" y="827.35" font-size="9.1" text-anchor="end" fill="#1a1a1a" letter-spacing="0.5" stroke="#1a1a1a" stroke-width="0.18">CD44</text>
<text x="481" y="827.95" font-size="8.9" fill="#1a1a1a" letter-spacing="0.6" stroke="#1a1a1a" stroke-width="0.18">80KDa</text>
<rect x="414.5" y="843.6" width="64.5" height="18.7" fill="#dedee2"/>
<rect x="418.2" y="851.7" width="11.2" height="3.4" rx="1.7" fill="#777" filter="url(#b1_20)"/>
<rect x="429.4" y="850.7" width="18.6" height="4.6" rx="2.3" fill="#111" filter="url(#b1_10)"/>
<rect x="449.2" y="851.9" width="11.2" height="3.4" rx="1.7" fill="#888" filter="url(#b1_20)"/>
<rect x="464.1" y="853" width="11.2" height="3" rx="1.5" fill="#a8a8ac" filter="url(#b1_20)"/>
<rect x="414.5" y="843.6" width="64.5" height="18.7" fill="none" stroke="#787878" stroke-width="0.9"/>
<text x="412" y="854.75" font-size="9.1" text-anchor="end" fill="#1a1a1a" letter-spacing="0.5" stroke="#1a1a1a" stroke-width="0.18">Nanog</text>
<text x="481" y="855.35" font-size="8.9" fill="#1a1a1a" letter-spacing="0.6" stroke="#1a1a1a" stroke-width="0.18">42KDa</text>
<rect x="414.5" y="871.2" width="64.5" height="17.9" fill="#ececee"/>
<rect x="417" y="879.4" width="13.6" height="3.8" rx="1.9" fill="#111" filter="url(#b0_70)"/>
<rect x="431.9" y="878.5" width="14.9" height="4.6" rx="2.3" fill="#000" filter="url(#b0_70)"/>
<rect x="448.7" y="879.1" width="11.7" height="3" rx="1.5" fill="#555" filter="url(#b0_80)"/>
<rect x="463.6" y="879.1" width="11" height="3" rx="1.5" fill="#4a4a4a" filter="url(#b0_80)"/>
<rect x="414.5" y="871.2" width="64.5" height="17.9" fill="none" stroke="#787878" stroke-width="0.9"/>
<text x="412" y="881.95" font-size="9.1" text-anchor="end" fill="#1a1a1a" letter-spacing="0.5" stroke="#1a1a1a" stroke-width="0.18">Bmi-1</text>
<text x="481" y="882.55" font-size="8.9" fill="#1a1a1a" letter-spacing="0.6" stroke="#1a1a1a" stroke-width="0.18">43KDa</text>
<rect x="414.5" y="900.2" width="64.5" height="18.2" fill="#ececee"/>
<rect x="420.7" y="908.1" width="9.9" height="4.2" rx="2.1" fill="#000" filter="url(#b0_60)"/>
<rect x="433.1" y="908" width="12.4" height="4.4" rx="2.2" fill="#000" filter="url(#b0_60)"/>
<rect x="448.7" y="907.9" width="10.5" height="3.8" rx="1.9" fill="#000" filter="url(#b0_60)"/>
<rect x="463.6" y="907.6" width="10.5" height="4" rx="2" fill="#000" filter="url(#b0_60)"/>
<rect x="414.5" y="900.2" width="64.5" height="18.2" fill="none" stroke="#787878" stroke-width="0.9"/>
<text x="412" y="911.1" font-size="9.1" text-anchor="end" fill="#1a1a1a" letter-spacing="0.5" stroke="#1a1a1a" stroke-width="0.18">β-actin</text>
<text x="481" y="911.7" font-size="8.9" fill="#1a1a1a" letter-spacing="0.6" stroke="#1a1a1a" stroke-width="0.18">42KDa</text>
<text x="607.8" y="782.8" font-size="15" font-weight="bold" text-anchor="middle">OS-RC-2</text>
<text x="539.8" y="799.8" font-size="7.2" fill="#111" letter-spacing="0.1">PLOD2-KO</text>
<text x="541.8" y="811" font-size="7.2" fill="#111" letter-spacing="0.5">Hypoxia</text>
<line x1="587.4" y1="795.5" x2="590.6" y2="795.5" stroke="#111" stroke-width="1.3"/>
<line x1="587.4" y1="810.9" x2="590.6" y2="810.9" stroke="#111" stroke-width="1.3"/>
<line x1="605.7" y1="795.5" x2="608.9" y2="795.5" stroke="#111" stroke-width="1.3"/>
<line x1="605.1" y1="810.9" x2="609.5" y2="810.9" stroke="#111" stroke-width="1.3"/>
<line x1="607.3" y1="808.7" x2="607.3" y2="813.1" stroke="#111" stroke-width="1.3"/>
<line x1="623.2" y1="795.5" x2="627.6" y2="795.5" stroke="#111" stroke-width="1.3"/>
<line x1="625.4" y1="793.3" x2="625.4" y2="797.7" stroke="#111" stroke-width="1.3"/>
<line x1="623.8" y1="810.9" x2="627" y2="810.9" stroke="#111" stroke-width="1.3"/>
<line x1="637.4" y1="795.5" x2="641.8" y2="795.5" stroke="#111" stroke-width="1.3"/>
<line x1="639.6" y1="793.3" x2="639.6" y2="797.7" stroke="#111" stroke-width="1.3"/>
<line x1="637.4" y1="810.9" x2="641.8" y2="810.9" stroke="#111" stroke-width="1.3"/>
<line x1="639.6" y1="808.7" x2="639.6" y2="813.1" stroke="#111" stroke-width="1.3"/>
<rect x="581.5" y="815.8" width="66.3" height="19.2" fill="#d8d8dc"/>
<rect x="585.7" y="821.3" width="13.7" height="10" rx="2.5" fill="#000" filter="url(#b1_00)"/>
<rect x="601.4" y="821.3" width="14.1" height="10" rx="2.5" fill="#000" filter="url(#b1_00)"/>
<rect x="618" y="824.5" width="11.7" height="4.6" rx="2.3" fill="#8a8a8e" filter="url(#b1_30)"/>
<rect x="633.6" y="824.5" width="11.7" height="4.6" rx="2.3" fill="#707074" filter="url(#b1_30)"/>
<rect x="581.5" y="815.8" width="66.3" height="19.2" fill="none" stroke="#787878" stroke-width="0.9"/>
<text x="580.8" y="827.2" font-size="9.1" text-anchor="end" fill="#1a1a1a" letter-spacing="0.5" stroke="#1a1a1a" stroke-width="0.18">CD44</text>
<text x="650.3" y="827.8" font-size="8.9" fill="#1a1a1a" letter-spacing="0.6" stroke="#1a1a1a" stroke-width="0.18">80KDa</text>
<rect x="581.5" y="845.1" width="66.3" height="17.9" fill="#f0f0f2"/>
<rect x="585.7" y="850.8" width="14.9" height="5.6" rx="2.8" fill="#000" filter="url(#b0_90)"/>
<rect x="600.6" y="850.4" width="16.2" height="6" rx="3" fill="#000" filter="url(#b0_90)"/>
<rect x="618" y="852.8" width="12" height="2.4" rx="1.2" fill="#d0d0d4" filter="url(#b1_20)"/>
<rect x="633" y="852.8" width="12" height="2.4" rx="1.2" fill="#d0d0d4" filter="url(#b1_20)"/>
<rect x="581.5" y="845.1" width="66.3" height="17.9" fill="none" stroke="#787878" stroke-width="0.9"/>
<text x="580.8" y="855.85" font-size="9.1" text-anchor="end" fill="#1a1a1a" letter-spacing="0.5" stroke="#1a1a1a" stroke-width="0.18">Nanog</text>
<text x="650.3" y="856.45" font-size="8.9" fill="#1a1a1a" letter-spacing="0.6" stroke="#1a1a1a" stroke-width="0.18">42KDa</text>
<rect x="581.5" y="872.2" width="66.3" height="18.1" fill="#eeeef0"/>
<rect x="585.7" y="879.4" width="11.2" height="3.4" rx="1.7" fill="#0a0a0a" filter="url(#b0_70)"/>
<rect x="600.6" y="879.2" width="11.7" height="3.8" rx="1.9" fill="#0a0a0a" filter="url(#b0_70)"/>
<rect x="616.8" y="880.4" width="11.1" height="2.4" rx="1.2" fill="#555" filter="url(#b0_80)"/>
<rect x="631.7" y="880.4" width="11.9" height="2.4" rx="1.2" fill="#555" filter="url(#b0_80)"/>
<rect x="581.5" y="872.2" width="66.3" height="18.1" fill="none" stroke="#787878" stroke-width="0.9"/>
<text x="580.8" y="883.05" font-size="9.1" text-anchor="end" fill="#1a1a1a" letter-spacing="0.5" stroke="#1a1a1a" stroke-width="0.18">Bmi-1</text>
<text x="650.3" y="883.65" font-size="8.9" fill="#1a1a1a" letter-spacing="0.6" stroke="#1a1a1a" stroke-width="0.18">43KDa</text>
<rect x="581.5" y="902" width="66.3" height="18.1" fill="#eeeef0"/>
<rect x="585.7" y="908.9" width="12.4" height="4" rx="2" fill="#050505" filter="url(#b0_60)"/>
<rect x="600.6" y="908.9" width="12.4" height="4" rx="2" fill="#050505" filter="url(#b0_60)"/>
<rect x="616.3" y="908.8" width="12.9" height="4.2" rx="2.1" fill="#050505" filter="url(#b0_60)"/>
<rect x="631.7" y="908.8" width="12.4" height="4.2" rx="2.1" fill="#050505" filter="url(#b0_60)"/>
<rect x="581.5" y="902" width="66.3" height="18.1" fill="none" stroke="#787878" stroke-width="0.9"/>
<text x="580.8" y="912.85" font-size="9.1" text-anchor="end" fill="#1a1a1a" letter-spacing="0.5" stroke="#1a1a1a" stroke-width="0.18">β-actin</text>
<text x="650.3" y="913.45" font-size="8.9" fill="#1a1a1a" letter-spacing="0.6" stroke="#1a1a1a" stroke-width="0.18">42KDa</text>
</svg>
</body></html>
